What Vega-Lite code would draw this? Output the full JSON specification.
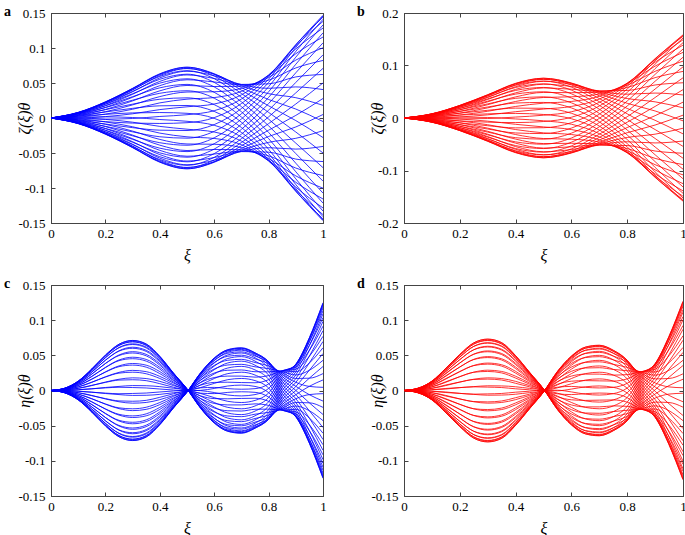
{
"$schema":"https://vega.github.io/schema/vega-lite/v6.json",
"padding":{"left":3,"top":4,"right":2,"bottom":0},
"background":"white",
"config":{"font":"Liberation Serif","view":{"stroke":"#444","strokeWidth":1},
"axis":{"labelFont":"Liberation Serif","labelFontSize":13,"labelColor":"#000","labelFlush":false,"labelOverlap":false,"titleFont":"Liberation Serif","titleFontSize":16,"titleFontStyle":"italic","titleFontWeight":"normal","titleColor":"#000","domainColor":"#444","tickColor":"#444","tickSize":-4,"grid":false},
"axisX":{"labelPadding":8},"axisY":{"labelPadding":10}},
"datasets":{
"a":[
{"c":0,"x":0,"y":0},{"c":0,"x":0.1,"y":0.008},{"c":0,"x":0.2,"y":0.023},{"c":0,"x":0.3,"y":0.042},{"c":0,"x":0.4,"y":0.062},{"c":0,"x":0.5,"y":0.071},{"c":0,"x":0.6,"y":0.06},{"c":0,"x":0.7,"y":0.035},{"c":0,"x":0.8,"y":0.008},{"c":0,"x":0.9,"y":-0.02},{"c":0,"x":1,"y":-0.05},
{"c":1,"x":0,"y":0},{"c":1,"x":0.1,"y":0.0076},{"c":1,"x":0.2,"y":0.0225},{"c":1,"x":0.3,"y":0.0418},{"c":1,"x":0.4,"y":0.0627},{"c":1,"x":0.5,"y":0.0724},{"c":1,"x":0.6,"y":0.0633},{"c":1,"x":0.7,"y":0.0435},{"c":1,"x":0.8,"y":0.0264},{"c":1,"x":0.9,"y":0.0128},{"c":1,"x":1,"y":-0.005},
{"c":2,"x":0,"y":0},{"c":2,"x":0.1,"y":0.0065},{"c":2,"x":0.2,"y":0.0198},{"c":2,"x":0.3,"y":0.0375},{"c":2,"x":0.4,"y":0.0573},{"c":2,"x":0.5,"y":0.0668},{"c":2,"x":0.6,"y":0.0603},{"c":2,"x":0.7,"y":0.0477},{"c":2,"x":0.8,"y":0.0424},{"c":2,"x":0.9,"y":0.0444},{"c":2,"x":1,"y":0.0406},
{"c":3,"x":0,"y":0},{"c":3,"x":0.1,"y":0.0047},{"c":3,"x":0.2,"y":0.0151},{"c":3,"x":0.3,"y":0.0296},{"c":3,"x":0.4,"y":0.0462},{"c":3,"x":0.5,"y":0.0546},{"c":3,"x":0.6,"y":0.0515},{"c":3,"x":0.7,"y":0.0473},{"c":3,"x":0.8,"y":0.054},{"c":3,"x":0.9,"y":0.0715},{"c":3,"x":1,"y":0.0822},
{"c":4,"x":0,"y":0},{"c":4,"x":0.1,"y":0.0025},{"c":4,"x":0.2,"y":0.009},{"c":4,"x":0.3,"y":0.0187},{"c":4,"x":0.4,"y":0.0306},{"c":4,"x":0.5,"y":0.0371},{"c":4,"x":0.6,"y":0.0375},{"c":4,"x":0.7,"y":0.0422},{"c":4,"x":0.8,"y":0.0605},{"c":4,"x":0.9,"y":0.0918},{"c":4,"x":1,"y":0.1157},
{"c":5,"x":0,"y":0},{"c":5,"x":0.1,"y":0},{"c":5,"x":0.2,"y":0.002},{"c":5,"x":0.3,"y":0.006},{"c":5,"x":0.4,"y":0.012},{"c":5,"x":0.5,"y":0.016},{"c":5,"x":0.6,"y":0.02},{"c":5,"x":0.7,"y":0.033},{"c":5,"x":0.8,"y":0.061},{"c":5,"x":0.9,"y":0.103},{"c":5,"x":1,"y":0.138},
{"c":6,"x":0,"y":0},{"c":6,"x":0.1,"y":-0.0025},{"c":6,"x":0.2,"y":-0.0052},{"c":6,"x":0.3,"y":-0.0073},{"c":6,"x":0.4,"y":-0.0078},{"c":6,"x":0.5,"y":-0.0067},{"c":6,"x":0.6,"y":0.0005},{"c":6,"x":0.7,"y":0.0206},{"c":6,"x":0.8,"y":0.0555},{"c":6,"x":0.9,"y":0.1042},{"c":6,"x":1,"y":0.1467},
{"c":7,"x":0,"y":0},{"c":7,"x":0.1,"y":-0.0047},{"c":7,"x":0.2,"y":-0.0119},{"c":7,"x":0.3,"y":-0.0198},{"c":7,"x":0.4,"y":-0.0268},{"c":7,"x":0.5,"y":-0.0288},{"c":7,"x":0.6,"y":-0.0191},{"c":7,"x":0.7,"y":0.0061},{"c":7,"x":0.8,"y":0.0446},{"c":7,"x":0.9,"y":0.0951},{"c":7,"x":1,"y":0.141},
{"c":8,"x":0,"y":0},{"c":8,"x":0.1,"y":-0.0065},{"c":8,"x":0.2,"y":-0.0174},{"c":8,"x":0.3,"y":-0.0305},{"c":8,"x":0.4,"y":-0.0431},{"c":8,"x":0.5,"y":-0.048},{"c":8,"x":0.6,"y":-0.0367},{"c":8,"x":0.7,"y":-0.0089},{"c":8,"x":0.8,"y":0.0294},{"c":8,"x":0.9,"y":0.0768},{"c":8,"x":1,"y":0.1216},
{"c":9,"x":0,"y":0},{"c":9,"x":0.1,"y":-0.0076},{"c":9,"x":0.2,"y":-0.0213},{"c":9,"x":0.3,"y":-0.038},{"c":9,"x":0.4,"y":-0.0553},{"c":9,"x":0.5,"y":-0.0626},{"c":9,"x":0.6,"y":-0.0509},{"c":9,"x":0.7,"y":-0.0231},{"c":9,"x":0.8,"y":0.0112},{"c":9,"x":0.9,"y":0.0508},{"c":9,"x":1,"y":0.0902},
{"c":10,"x":0,"y":0},{"c":10,"x":0.1,"y":-0.008},{"c":10,"x":0.2,"y":-0.023},{"c":10,"x":0.3,"y":-0.042},{"c":10,"x":0.4,"y":-0.062},{"c":10,"x":0.5,"y":-0.071},{"c":10,"x":0.6,"y":-0.06},{"c":10,"x":0.7,"y":-0.035},{"c":10,"x":0.8,"y":-0.008},{"c":10,"x":0.9,"y":0.02},{"c":10,"x":1,"y":0.05},
{"c":11,"x":0,"y":0},{"c":11,"x":0.1,"y":-0.0076},{"c":11,"x":0.2,"y":-0.0225},{"c":11,"x":0.3,"y":-0.0418},{"c":11,"x":0.4,"y":-0.0627},{"c":11,"x":0.5,"y":-0.0724},{"c":11,"x":0.6,"y":-0.0633},{"c":11,"x":0.7,"y":-0.0435},{"c":11,"x":0.8,"y":-0.0264},{"c":11,"x":0.9,"y":-0.0128},{"c":11,"x":1,"y":0.005},
{"c":12,"x":0,"y":0},{"c":12,"x":0.1,"y":-0.0065},{"c":12,"x":0.2,"y":-0.0198},{"c":12,"x":0.3,"y":-0.0375},{"c":12,"x":0.4,"y":-0.0573},{"c":12,"x":0.5,"y":-0.0668},{"c":12,"x":0.6,"y":-0.0603},{"c":12,"x":0.7,"y":-0.0477},{"c":12,"x":0.8,"y":-0.0424},{"c":12,"x":0.9,"y":-0.0444},{"c":12,"x":1,"y":-0.0406},
{"c":13,"x":0,"y":0},{"c":13,"x":0.1,"y":-0.0047},{"c":13,"x":0.2,"y":-0.0151},{"c":13,"x":0.3,"y":-0.0296},{"c":13,"x":0.4,"y":-0.0462},{"c":13,"x":0.5,"y":-0.0546},{"c":13,"x":0.6,"y":-0.0515},{"c":13,"x":0.7,"y":-0.0473},{"c":13,"x":0.8,"y":-0.054},{"c":13,"x":0.9,"y":-0.0715},{"c":13,"x":1,"y":-0.0822},
{"c":14,"x":0,"y":0},{"c":14,"x":0.1,"y":-0.0025},{"c":14,"x":0.2,"y":-0.009},{"c":14,"x":0.3,"y":-0.0187},{"c":14,"x":0.4,"y":-0.0306},{"c":14,"x":0.5,"y":-0.0371},{"c":14,"x":0.6,"y":-0.0375},{"c":14,"x":0.7,"y":-0.0422},{"c":14,"x":0.8,"y":-0.0605},{"c":14,"x":0.9,"y":-0.0918},{"c":14,"x":1,"y":-0.1157},
{"c":15,"x":0,"y":0},{"c":15,"x":0.1,"y":0},{"c":15,"x":0.2,"y":-0.002},{"c":15,"x":0.3,"y":-0.006},{"c":15,"x":0.4,"y":-0.012},{"c":15,"x":0.5,"y":-0.016},{"c":15,"x":0.6,"y":-0.02},{"c":15,"x":0.7,"y":-0.033},{"c":15,"x":0.8,"y":-0.061},{"c":15,"x":0.9,"y":-0.103},{"c":15,"x":1,"y":-0.138},
{"c":16,"x":0,"y":0},{"c":16,"x":0.1,"y":0.0025},{"c":16,"x":0.2,"y":0.0052},{"c":16,"x":0.3,"y":0.0073},{"c":16,"x":0.4,"y":0.0078},{"c":16,"x":0.5,"y":0.0067},{"c":16,"x":0.6,"y":-0.0005},{"c":16,"x":0.7,"y":-0.0206},{"c":16,"x":0.8,"y":-0.0555},{"c":16,"x":0.9,"y":-0.1042},{"c":16,"x":1,"y":-0.1467},
{"c":17,"x":0,"y":0},{"c":17,"x":0.1,"y":0.0047},{"c":17,"x":0.2,"y":0.0119},{"c":17,"x":0.3,"y":0.0198},{"c":17,"x":0.4,"y":0.0268},{"c":17,"x":0.5,"y":0.0288},{"c":17,"x":0.6,"y":0.0191},{"c":17,"x":0.7,"y":-0.0061},{"c":17,"x":0.8,"y":-0.0446},{"c":17,"x":0.9,"y":-0.0951},{"c":17,"x":1,"y":-0.141},
{"c":18,"x":0,"y":0},{"c":18,"x":0.1,"y":0.0065},{"c":18,"x":0.2,"y":0.0174},{"c":18,"x":0.3,"y":0.0305},{"c":18,"x":0.4,"y":0.0431},{"c":18,"x":0.5,"y":0.048},{"c":18,"x":0.6,"y":0.0367},{"c":18,"x":0.7,"y":0.0089},{"c":18,"x":0.8,"y":-0.0294},{"c":18,"x":0.9,"y":-0.0768},{"c":18,"x":1,"y":-0.1216},
{"c":19,"x":0,"y":0},{"c":19,"x":0.1,"y":0.0076},{"c":19,"x":0.2,"y":0.0213},{"c":19,"x":0.3,"y":0.038},{"c":19,"x":0.4,"y":0.0553},{"c":19,"x":0.5,"y":0.0626},{"c":19,"x":0.6,"y":0.0509},{"c":19,"x":0.7,"y":0.0231},{"c":19,"x":0.8,"y":-0.0112},{"c":19,"x":0.9,"y":-0.0508},{"c":19,"x":1,"y":-0.0902},
{"c":20,"x":0,"y":0},{"c":20,"x":0.1,"y":0.0079},{"c":20,"x":0.2,"y":0.023},{"c":20,"x":0.3,"y":0.0424},{"c":20,"x":0.4,"y":0.0632},{"c":20,"x":0.5,"y":0.0726},{"c":20,"x":0.6,"y":0.0624},{"c":20,"x":0.7,"y":0.0397},{"c":20,"x":0.8,"y":0.0174},{"c":20,"x":0.9,"y":-0.0037},{"c":20,"x":1,"y":-0.0279},
{"c":21,"x":0,"y":0},{"c":21,"x":0.1,"y":0.0071},{"c":21,"x":0.2,"y":0.0214},{"c":21,"x":0.3,"y":0.0401},{"c":21,"x":0.4,"y":0.0606},{"c":21,"x":0.5,"y":0.0706},{"c":21,"x":0.6,"y":0.0626},{"c":21,"x":0.7,"y":0.0462},{"c":21,"x":0.8,"y":0.0348},{"c":21,"x":0.9,"y":0.029},{"c":21,"x":1,"y":0.0181},
{"c":22,"x":0,"y":0},{"c":22,"x":0.1,"y":0.0057},{"c":22,"x":0.2,"y":0.0177},{"c":22,"x":0.3,"y":0.0339},{"c":22,"x":0.4,"y":0.0523},{"c":22,"x":0.5,"y":0.0615},{"c":22,"x":0.6,"y":0.0565},{"c":22,"x":0.7,"y":0.048},{"c":22,"x":0.8,"y":0.0488},{"c":22,"x":0.9,"y":0.0587},{"c":22,"x":1,"y":0.0622},
{"c":23,"x":0,"y":0},{"c":23,"x":0.1,"y":0.0036},{"c":23,"x":0.2,"y":0.0122},{"c":23,"x":0.3,"y":0.0244},{"c":23,"x":0.4,"y":0.0388},{"c":23,"x":0.5,"y":0.0465},{"c":23,"x":0.6,"y":0.045},{"c":23,"x":0.7,"y":0.0453},{"c":23,"x":0.8,"y":0.058},{"c":23,"x":0.9,"y":0.0827},{"c":23,"x":1,"y":0.1003},
{"c":24,"x":0,"y":0},{"c":24,"x":0.1,"y":0.0012},{"c":24,"x":0.2,"y":0.0056},{"c":24,"x":0.3,"y":0.0125},{"c":24,"x":0.4,"y":0.0216},{"c":24,"x":0.5,"y":0.0269},{"c":24,"x":0.6,"y":0.0292},{"c":24,"x":0.7,"y":0.0381},{"c":24,"x":0.8,"y":0.0615},{"c":24,"x":0.9,"y":0.0987},{"c":24,"x":1,"y":0.1285},
{"c":25,"x":0,"y":0},{"c":25,"x":0.1,"y":-0.0012},{"c":25,"x":0.2,"y":-0.0016},{"c":25,"x":0.3,"y":-0.0007},{"c":25,"x":0.4,"y":0.0022},{"c":25,"x":0.5,"y":0.0047},{"c":25,"x":0.6,"y":0.0104},{"c":25,"x":0.7,"y":0.0271},{"c":25,"x":0.8,"y":0.0591},{"c":25,"x":0.9,"y":0.1049},{"c":25,"x":1,"y":0.1441},
{"c":26,"x":0,"y":0},{"c":26,"x":0.1,"y":-0.0036},{"c":26,"x":0.2,"y":-0.0086},{"c":26,"x":0.3,"y":-0.0138},{"c":26,"x":0.4,"y":-0.0174},{"c":26,"x":0.5,"y":-0.0179},{"c":26,"x":0.6,"y":-0.0094},{"c":26,"x":0.7,"y":0.0135},{"c":26,"x":0.8,"y":0.0508},{"c":26,"x":0.9,"y":0.1009},{"c":26,"x":1,"y":0.1457},
{"c":27,"x":0,"y":0},{"c":27,"x":0.1,"y":-0.0057},{"c":27,"x":0.2,"y":-0.0149},{"c":27,"x":0.3,"y":-0.0255},{"c":27,"x":0.4,"y":-0.0353},{"c":27,"x":0.5,"y":-0.0389},{"c":27,"x":0.6,"y":-0.0283},{"c":27,"x":0.7,"y":-0.0014},{"c":27,"x":0.8,"y":0.0374},{"c":27,"x":0.9,"y":0.0869},{"c":27,"x":1,"y":0.133},
{"c":28,"x":0,"y":0},{"c":28,"x":0.1,"y":-0.0071},{"c":28,"x":0.2,"y":-0.0196},{"c":28,"x":0.3,"y":-0.0347},{"c":28,"x":0.4,"y":-0.0498},{"c":28,"x":0.5,"y":-0.056},{"c":28,"x":0.6,"y":-0.0444},{"c":28,"x":0.7,"y":-0.0162},{"c":28,"x":0.8,"y":0.0206},{"c":28,"x":0.9,"y":0.0646},{"c":28,"x":1,"y":0.1073},
{"c":29,"x":0,"y":0},{"c":29,"x":0.1,"y":-0.0079},{"c":29,"x":0.2,"y":-0.0224},{"c":29,"x":0.3,"y":-0.0406},{"c":29,"x":0.4,"y":-0.0594},{"c":29,"x":0.5,"y":-0.0676},{"c":29,"x":0.6,"y":-0.0562},{"c":29,"x":0.7,"y":-0.0295},{"c":29,"x":0.8,"y":0.0016},{"c":29,"x":0.9,"y":0.0359},{"c":29,"x":1,"y":0.0709},
{"c":30,"x":0,"y":0},{"c":30,"x":0.1,"y":-0.0079},{"c":30,"x":0.2,"y":-0.023},{"c":30,"x":0.3,"y":-0.0424},{"c":30,"x":0.4,"y":-0.0632},{"c":30,"x":0.5,"y":-0.0726},{"c":30,"x":0.6,"y":-0.0624},{"c":30,"x":0.7,"y":-0.0397},{"c":30,"x":0.8,"y":-0.0174},{"c":30,"x":0.9,"y":0.0037},{"c":30,"x":1,"y":0.0279},
{"c":31,"x":0,"y":0},{"c":31,"x":0.1,"y":-0.0071},{"c":31,"x":0.2,"y":-0.0214},{"c":31,"x":0.3,"y":-0.0401},{"c":31,"x":0.4,"y":-0.0606},{"c":31,"x":0.5,"y":-0.0706},{"c":31,"x":0.6,"y":-0.0626},{"c":31,"x":0.7,"y":-0.0462},{"c":31,"x":0.8,"y":-0.0348},{"c":31,"x":0.9,"y":-0.029},{"c":31,"x":1,"y":-0.0181},
{"c":32,"x":0,"y":0},{"c":32,"x":0.1,"y":-0.0057},{"c":32,"x":0.2,"y":-0.0177},{"c":32,"x":0.3,"y":-0.0339},{"c":32,"x":0.4,"y":-0.0523},{"c":32,"x":0.5,"y":-0.0615},{"c":32,"x":0.6,"y":-0.0565},{"c":32,"x":0.7,"y":-0.048},{"c":32,"x":0.8,"y":-0.0488},{"c":32,"x":0.9,"y":-0.0587},{"c":32,"x":1,"y":-0.0622},
{"c":33,"x":0,"y":0},{"c":33,"x":0.1,"y":-0.0036},{"c":33,"x":0.2,"y":-0.0122},{"c":33,"x":0.3,"y":-0.0244},{"c":33,"x":0.4,"y":-0.0388},{"c":33,"x":0.5,"y":-0.0465},{"c":33,"x":0.6,"y":-0.045},{"c":33,"x":0.7,"y":-0.0453},{"c":33,"x":0.8,"y":-0.058},{"c":33,"x":0.9,"y":-0.0827},{"c":33,"x":1,"y":-0.1003},
{"c":34,"x":0,"y":0},{"c":34,"x":0.1,"y":-0.0012},{"c":34,"x":0.2,"y":-0.0056},{"c":34,"x":0.3,"y":-0.0125},{"c":34,"x":0.4,"y":-0.0216},{"c":34,"x":0.5,"y":-0.0269},{"c":34,"x":0.6,"y":-0.0292},{"c":34,"x":0.7,"y":-0.0381},{"c":34,"x":0.8,"y":-0.0615},{"c":34,"x":0.9,"y":-0.0987},{"c":34,"x":1,"y":-0.1285},
{"c":35,"x":0,"y":0},{"c":35,"x":0.1,"y":0.0012},{"c":35,"x":0.2,"y":0.0016},{"c":35,"x":0.3,"y":0.0007},{"c":35,"x":0.4,"y":-0.0022},{"c":35,"x":0.5,"y":-0.0047},{"c":35,"x":0.6,"y":-0.0104},{"c":35,"x":0.7,"y":-0.0271},{"c":35,"x":0.8,"y":-0.0591},{"c":35,"x":0.9,"y":-0.1049},{"c":35,"x":1,"y":-0.1441},
{"c":36,"x":0,"y":0},{"c":36,"x":0.1,"y":0.0036},{"c":36,"x":0.2,"y":0.0086},{"c":36,"x":0.3,"y":0.0138},{"c":36,"x":0.4,"y":0.0174},{"c":36,"x":0.5,"y":0.0179},{"c":36,"x":0.6,"y":0.0094},{"c":36,"x":0.7,"y":-0.0135},{"c":36,"x":0.8,"y":-0.0508},{"c":36,"x":0.9,"y":-0.1009},{"c":36,"x":1,"y":-0.1457},
{"c":37,"x":0,"y":0},{"c":37,"x":0.1,"y":0.0057},{"c":37,"x":0.2,"y":0.0149},{"c":37,"x":0.3,"y":0.0255},{"c":37,"x":0.4,"y":0.0353},{"c":37,"x":0.5,"y":0.0389},{"c":37,"x":0.6,"y":0.0283},{"c":37,"x":0.7,"y":0.0014},{"c":37,"x":0.8,"y":-0.0374},{"c":37,"x":0.9,"y":-0.0869},{"c":37,"x":1,"y":-0.133},
{"c":38,"x":0,"y":0},{"c":38,"x":0.1,"y":0.0071},{"c":38,"x":0.2,"y":0.0196},{"c":38,"x":0.3,"y":0.0347},{"c":38,"x":0.4,"y":0.0498},{"c":38,"x":0.5,"y":0.056},{"c":38,"x":0.6,"y":0.0444},{"c":38,"x":0.7,"y":0.0162},{"c":38,"x":0.8,"y":-0.0206},{"c":38,"x":0.9,"y":-0.0646},{"c":38,"x":1,"y":-0.1073},
{"c":39,"x":0,"y":0},{"c":39,"x":0.1,"y":0.0079},{"c":39,"x":0.2,"y":0.0224},{"c":39,"x":0.3,"y":0.0406},{"c":39,"x":0.4,"y":0.0594},{"c":39,"x":0.5,"y":0.0676},{"c":39,"x":0.6,"y":0.0562},{"c":39,"x":0.7,"y":0.0295},{"c":39,"x":0.8,"y":-0.0016},{"c":39,"x":0.9,"y":-0.0359},{"c":39,"x":1,"y":-0.0709}
],
"b":[
{"c":0,"x":0,"y":0},{"c":0,"x":0.1,"y":0.008},{"c":0,"x":0.2,"y":0.024},{"c":0,"x":0.3,"y":0.044},{"c":0,"x":0.4,"y":0.065},{"c":0,"x":0.5,"y":0.074},{"c":0,"x":0.6,"y":0.063},{"c":0,"x":0.7,"y":0.037},{"c":0,"x":0.8,"y":0.008},{"c":0,"x":0.9,"y":-0.022},{"c":0,"x":1,"y":-0.054},
{"c":1,"x":0,"y":0},{"c":1,"x":0.1,"y":0.0076},{"c":1,"x":0.2,"y":0.0234},{"c":1,"x":0.3,"y":0.0437},{"c":1,"x":0.4,"y":0.0655},{"c":1,"x":0.5,"y":0.0757},{"c":1,"x":0.6,"y":0.0667},{"c":1,"x":0.7,"y":0.0463},{"c":1,"x":0.8,"y":0.028},{"c":1,"x":0.9,"y":0.0134},{"c":1,"x":1,"y":-0.0054},
{"c":2,"x":0,"y":0},{"c":2,"x":0.1,"y":0.0065},{"c":2,"x":0.2,"y":0.0206},{"c":2,"x":0.3,"y":0.0391},{"c":2,"x":0.4,"y":0.0597},{"c":2,"x":0.5,"y":0.0699},{"c":2,"x":0.6,"y":0.0639},{"c":2,"x":0.7,"y":0.0511},{"c":2,"x":0.8,"y":0.0453},{"c":2,"x":0.9,"y":0.0475},{"c":2,"x":1,"y":0.0439},
{"c":3,"x":0,"y":0},{"c":3,"x":0.1,"y":0.0047},{"c":3,"x":0.2,"y":0.0157},{"c":3,"x":0.3,"y":0.0308},{"c":3,"x":0.4,"y":0.0479},{"c":3,"x":0.5,"y":0.0573},{"c":3,"x":0.6,"y":0.0548},{"c":3,"x":0.7,"y":0.0509},{"c":3,"x":0.8,"y":0.0581},{"c":3,"x":0.9,"y":0.0769},{"c":3,"x":1,"y":0.0887},
{"c":4,"x":0,"y":0},{"c":4,"x":0.1,"y":0.0025},{"c":4,"x":0.2,"y":0.0093},{"c":4,"x":0.3,"y":0.0193},{"c":4,"x":0.4,"y":0.0315},{"c":4,"x":0.5,"y":0.0391},{"c":4,"x":0.6,"y":0.0404},{"c":4,"x":0.7,"y":0.0456},{"c":4,"x":0.8,"y":0.0653},{"c":4,"x":0.9,"y":0.0988},{"c":4,"x":1,"y":0.125},
{"c":5,"x":0,"y":0},{"c":5,"x":0.1,"y":0},{"c":5,"x":0.2,"y":0.002},{"c":5,"x":0.3,"y":0.006},{"c":5,"x":0.4,"y":0.012},{"c":5,"x":0.5,"y":0.017},{"c":5,"x":0.6,"y":0.022},{"c":5,"x":0.7,"y":0.036},{"c":5,"x":0.8,"y":0.066},{"c":5,"x":0.9,"y":0.111},{"c":5,"x":1,"y":0.149},
{"c":6,"x":0,"y":0},{"c":6,"x":0.1,"y":-0.0025},{"c":6,"x":0.2,"y":-0.0055},{"c":6,"x":0.3,"y":-0.0079},{"c":6,"x":0.4,"y":-0.0087},{"c":6,"x":0.5,"y":-0.0067},{"c":6,"x":0.6,"y":0.0014},{"c":6,"x":0.7,"y":0.0228},{"c":6,"x":0.8,"y":0.0603},{"c":6,"x":0.9,"y":0.1124},{"c":6,"x":1,"y":0.1584},
{"c":7,"x":0,"y":0},{"c":7,"x":0.1,"y":-0.0047},{"c":7,"x":0.2,"y":-0.0125},{"c":7,"x":0.3,"y":-0.021},{"c":7,"x":0.4,"y":-0.0285},{"c":7,"x":0.5,"y":-0.0297},{"c":7,"x":0.6,"y":-0.0192},{"c":7,"x":0.7,"y":0.0073},{"c":7,"x":0.8,"y":0.0487},{"c":7,"x":0.9,"y":0.1027},{"c":7,"x":1,"y":0.1523},
{"c":8,"x":0,"y":0},{"c":8,"x":0.1,"y":-0.0065},{"c":8,"x":0.2,"y":-0.0182},{"c":8,"x":0.3,"y":-0.0321},{"c":8,"x":0.4,"y":-0.0455},{"c":8,"x":0.5,"y":-0.0499},{"c":8,"x":0.6,"y":-0.0381},{"c":8,"x":0.7,"y":-0.0087},{"c":8,"x":0.8,"y":0.0323},{"c":8,"x":0.9,"y":0.0831},{"c":8,"x":1,"y":0.1313},
{"c":9,"x":0,"y":0},{"c":9,"x":0.1,"y":-0.0076},{"c":9,"x":0.2,"y":-0.0222},{"c":9,"x":0.3,"y":-0.0399},{"c":9,"x":0.4,"y":-0.0581},{"c":9,"x":0.5,"y":-0.0651},{"c":9,"x":0.6,"y":-0.0531},{"c":9,"x":0.7,"y":-0.0241},{"c":9,"x":0.8,"y":0.0128},{"c":9,"x":0.9,"y":0.0552},{"c":9,"x":1,"y":0.0974},
{"c":10,"x":0,"y":0},{"c":10,"x":0.1,"y":-0.008},{"c":10,"x":0.2,"y":-0.024},{"c":10,"x":0.3,"y":-0.044},{"c":10,"x":0.4,"y":-0.065},{"c":10,"x":0.5,"y":-0.074},{"c":10,"x":0.6,"y":-0.063},{"c":10,"x":0.7,"y":-0.037},{"c":10,"x":0.8,"y":-0.008},{"c":10,"x":0.9,"y":0.022},{"c":10,"x":1,"y":0.054},
{"c":11,"x":0,"y":0},{"c":11,"x":0.1,"y":-0.0076},{"c":11,"x":0.2,"y":-0.0234},{"c":11,"x":0.3,"y":-0.0437},{"c":11,"x":0.4,"y":-0.0655},{"c":11,"x":0.5,"y":-0.0757},{"c":11,"x":0.6,"y":-0.0667},{"c":11,"x":0.7,"y":-0.0463},{"c":11,"x":0.8,"y":-0.028},{"c":11,"x":0.9,"y":-0.0134},{"c":11,"x":1,"y":0.0054},
{"c":12,"x":0,"y":0},{"c":12,"x":0.1,"y":-0.0065},{"c":12,"x":0.2,"y":-0.0206},{"c":12,"x":0.3,"y":-0.0391},{"c":12,"x":0.4,"y":-0.0597},{"c":12,"x":0.5,"y":-0.0699},{"c":12,"x":0.6,"y":-0.0639},{"c":12,"x":0.7,"y":-0.0511},{"c":12,"x":0.8,"y":-0.0453},{"c":12,"x":0.9,"y":-0.0475},{"c":12,"x":1,"y":-0.0439},
{"c":13,"x":0,"y":0},{"c":13,"x":0.1,"y":-0.0047},{"c":13,"x":0.2,"y":-0.0157},{"c":13,"x":0.3,"y":-0.0308},{"c":13,"x":0.4,"y":-0.0479},{"c":13,"x":0.5,"y":-0.0573},{"c":13,"x":0.6,"y":-0.0548},{"c":13,"x":0.7,"y":-0.0509},{"c":13,"x":0.8,"y":-0.0581},{"c":13,"x":0.9,"y":-0.0769},{"c":13,"x":1,"y":-0.0887},
{"c":14,"x":0,"y":0},{"c":14,"x":0.1,"y":-0.0025},{"c":14,"x":0.2,"y":-0.0093},{"c":14,"x":0.3,"y":-0.0193},{"c":14,"x":0.4,"y":-0.0315},{"c":14,"x":0.5,"y":-0.0391},{"c":14,"x":0.6,"y":-0.0404},{"c":14,"x":0.7,"y":-0.0456},{"c":14,"x":0.8,"y":-0.0653},{"c":14,"x":0.9,"y":-0.0988},{"c":14,"x":1,"y":-0.125},
{"c":15,"x":0,"y":0},{"c":15,"x":0.1,"y":0},{"c":15,"x":0.2,"y":-0.002},{"c":15,"x":0.3,"y":-0.006},{"c":15,"x":0.4,"y":-0.012},{"c":15,"x":0.5,"y":-0.017},{"c":15,"x":0.6,"y":-0.022},{"c":15,"x":0.7,"y":-0.036},{"c":15,"x":0.8,"y":-0.066},{"c":15,"x":0.9,"y":-0.111},{"c":15,"x":1,"y":-0.149},
{"c":16,"x":0,"y":0},{"c":16,"x":0.1,"y":0.0025},{"c":16,"x":0.2,"y":0.0055},{"c":16,"x":0.3,"y":0.0079},{"c":16,"x":0.4,"y":0.0087},{"c":16,"x":0.5,"y":0.0067},{"c":16,"x":0.6,"y":-0.0014},{"c":16,"x":0.7,"y":-0.0228},{"c":16,"x":0.8,"y":-0.0603},{"c":16,"x":0.9,"y":-0.1124},{"c":16,"x":1,"y":-0.1584},
{"c":17,"x":0,"y":0},{"c":17,"x":0.1,"y":0.0047},{"c":17,"x":0.2,"y":0.0125},{"c":17,"x":0.3,"y":0.021},{"c":17,"x":0.4,"y":0.0285},{"c":17,"x":0.5,"y":0.0297},{"c":17,"x":0.6,"y":0.0192},{"c":17,"x":0.7,"y":-0.0073},{"c":17,"x":0.8,"y":-0.0487},{"c":17,"x":0.9,"y":-0.1027},{"c":17,"x":1,"y":-0.1523},
{"c":18,"x":0,"y":0},{"c":18,"x":0.1,"y":0.0065},{"c":18,"x":0.2,"y":0.0182},{"c":18,"x":0.3,"y":0.0321},{"c":18,"x":0.4,"y":0.0455},{"c":18,"x":0.5,"y":0.0499},{"c":18,"x":0.6,"y":0.0381},{"c":18,"x":0.7,"y":0.0087},{"c":18,"x":0.8,"y":-0.0323},{"c":18,"x":0.9,"y":-0.0831},{"c":18,"x":1,"y":-0.1313},
{"c":19,"x":0,"y":0},{"c":19,"x":0.1,"y":0.0076},{"c":19,"x":0.2,"y":0.0222},{"c":19,"x":0.3,"y":0.0399},{"c":19,"x":0.4,"y":0.0581},{"c":19,"x":0.5,"y":0.0651},{"c":19,"x":0.6,"y":0.0531},{"c":19,"x":0.7,"y":0.0241},{"c":19,"x":0.8,"y":-0.0128},{"c":19,"x":0.9,"y":-0.0552},{"c":19,"x":1,"y":-0.0974},
{"c":20,"x":0,"y":0},{"c":20,"x":0.1,"y":0.0079},{"c":20,"x":0.2,"y":0.024},{"c":20,"x":0.3,"y":0.0444},{"c":20,"x":0.4,"y":0.0661},{"c":20,"x":0.5,"y":0.0758},{"c":20,"x":0.6,"y":0.0656},{"c":20,"x":0.7,"y":0.0422},{"c":20,"x":0.8,"y":0.0182},{"c":20,"x":0.9,"y":-0.0044},{"c":20,"x":1,"y":-0.0302},
{"c":21,"x":0,"y":0},{"c":21,"x":0.1,"y":0.0071},{"c":21,"x":0.2,"y":0.0223},{"c":21,"x":0.3,"y":0.0419},{"c":21,"x":0.4,"y":0.0633},{"c":21,"x":0.5,"y":0.0736},{"c":21,"x":0.6,"y":0.0661},{"c":21,"x":0.7,"y":0.0493},{"c":21,"x":0.8,"y":0.0371},{"c":21,"x":0.9,"y":0.0308},{"c":21,"x":1,"y":0.0195},
{"c":22,"x":0,"y":0},{"c":22,"x":0.1,"y":0.0057},{"c":22,"x":0.2,"y":0.0184},{"c":22,"x":0.3,"y":0.0353},{"c":22,"x":0.4,"y":0.0545},{"c":22,"x":0.5,"y":0.0643},{"c":22,"x":0.6,"y":0.0601},{"c":22,"x":0.7,"y":0.0517},{"c":22,"x":0.8,"y":0.0524},{"c":22,"x":0.9,"y":0.0629},{"c":22,"x":1,"y":0.0671},
{"c":23,"x":0,"y":0},{"c":23,"x":0.1,"y":0.0036},{"c":23,"x":0.2,"y":0.0127},{"c":23,"x":0.3,"y":0.0253},{"c":23,"x":0.4,"y":0.0402},{"c":23,"x":0.5,"y":0.0487},{"c":23,"x":0.6,"y":0.0482},{"c":23,"x":0.7,"y":0.0489},{"c":23,"x":0.8,"y":0.0624},{"c":23,"x":0.9,"y":0.0889},{"c":23,"x":1,"y":0.1083},
{"c":24,"x":0,"y":0},{"c":24,"x":0.1,"y":0.0012},{"c":24,"x":0.2,"y":0.0057},{"c":24,"x":0.3,"y":0.0128},{"c":24,"x":0.4,"y":0.022},{"c":24,"x":0.5,"y":0.0283},{"c":24,"x":0.6,"y":0.0315},{"c":24,"x":0.7,"y":0.0414},{"c":24,"x":0.8,"y":0.0664},{"c":24,"x":0.9,"y":0.1063},{"c":24,"x":1,"y":0.1388},
{"c":25,"x":0,"y":0},{"c":25,"x":0.1,"y":-0.0012},{"c":25,"x":0.2,"y":-0.0017},{"c":25,"x":0.3,"y":-0.001},{"c":25,"x":0.4,"y":0.0018},{"c":25,"x":0.5,"y":0.0053},{"c":25,"x":0.6,"y":0.0119},{"c":25,"x":0.7,"y":0.0298},{"c":25,"x":0.8,"y":0.064},{"c":25,"x":0.9,"y":0.1131},{"c":25,"x":1,"y":0.1556},
{"c":26,"x":0,"y":0},{"c":26,"x":0.1,"y":-0.0036},{"c":26,"x":0.2,"y":-0.0091},{"c":26,"x":0.3,"y":-0.0147},{"c":26,"x":0.4,"y":-0.0188},{"c":26,"x":0.5,"y":-0.0185},{"c":26,"x":0.6,"y":-0.009},{"c":26,"x":0.7,"y":0.0153},{"c":26,"x":0.8,"y":0.0552},{"c":26,"x":0.9,"y":0.1089},{"c":26,"x":1,"y":0.1573},
{"c":27,"x":0,"y":0},{"c":27,"x":0.1,"y":-0.0057},{"c":27,"x":0.2,"y":-0.0156},{"c":27,"x":0.3,"y":-0.0269},{"c":27,"x":0.4,"y":-0.0375},{"c":27,"x":0.5,"y":-0.0403},{"c":27,"x":0.6,"y":-0.0289},{"c":27,"x":0.7,"y":-0.0007},{"c":27,"x":0.8,"y":0.041},{"c":27,"x":0.9,"y":0.0941},{"c":27,"x":1,"y":0.1435},
{"c":28,"x":0,"y":0},{"c":28,"x":0.1,"y":-0.0071},{"c":28,"x":0.2,"y":-0.0205},{"c":28,"x":0.3,"y":-0.0365},{"c":28,"x":0.4,"y":-0.0525},{"c":28,"x":0.5,"y":-0.0582},{"c":28,"x":0.6,"y":-0.0461},{"c":28,"x":0.7,"y":-0.0167},{"c":28,"x":0.8,"y":0.0229},{"c":28,"x":0.9,"y":0.07},{"c":28,"x":1,"y":0.1157},
{"c":29,"x":0,"y":0},{"c":29,"x":0.1,"y":-0.0079},{"c":29,"x":0.2,"y":-0.0234},{"c":29,"x":0.3,"y":-0.0426},{"c":29,"x":0.4,"y":-0.0623},{"c":29,"x":0.5,"y":-0.0704},{"c":29,"x":0.6,"y":-0.0588},{"c":29,"x":0.7,"y":-0.031},{"c":29,"x":0.8,"y":0.0024},{"c":29,"x":0.9,"y":0.039},{"c":29,"x":1,"y":0.0766},
{"c":30,"x":0,"y":0},{"c":30,"x":0.1,"y":-0.0079},{"c":30,"x":0.2,"y":-0.024},{"c":30,"x":0.3,"y":-0.0444},{"c":30,"x":0.4,"y":-0.0661},{"c":30,"x":0.5,"y":-0.0758},{"c":30,"x":0.6,"y":-0.0656},{"c":30,"x":0.7,"y":-0.0422},{"c":30,"x":0.8,"y":-0.0182},{"c":30,"x":0.9,"y":0.0044},{"c":30,"x":1,"y":0.0302},
{"c":31,"x":0,"y":0},{"c":31,"x":0.1,"y":-0.0071},{"c":31,"x":0.2,"y":-0.0223},{"c":31,"x":0.3,"y":-0.0419},{"c":31,"x":0.4,"y":-0.0633},{"c":31,"x":0.5,"y":-0.0736},{"c":31,"x":0.6,"y":-0.0661},{"c":31,"x":0.7,"y":-0.0493},{"c":31,"x":0.8,"y":-0.0371},{"c":31,"x":0.9,"y":-0.0308},{"c":31,"x":1,"y":-0.0195},
{"c":32,"x":0,"y":0},{"c":32,"x":0.1,"y":-0.0057},{"c":32,"x":0.2,"y":-0.0184},{"c":32,"x":0.3,"y":-0.0353},{"c":32,"x":0.4,"y":-0.0545},{"c":32,"x":0.5,"y":-0.0643},{"c":32,"x":0.6,"y":-0.0601},{"c":32,"x":0.7,"y":-0.0517},{"c":32,"x":0.8,"y":-0.0524},{"c":32,"x":0.9,"y":-0.0629},{"c":32,"x":1,"y":-0.0671},
{"c":33,"x":0,"y":0},{"c":33,"x":0.1,"y":-0.0036},{"c":33,"x":0.2,"y":-0.0127},{"c":33,"x":0.3,"y":-0.0253},{"c":33,"x":0.4,"y":-0.0402},{"c":33,"x":0.5,"y":-0.0487},{"c":33,"x":0.6,"y":-0.0482},{"c":33,"x":0.7,"y":-0.0489},{"c":33,"x":0.8,"y":-0.0624},{"c":33,"x":0.9,"y":-0.0889},{"c":33,"x":1,"y":-0.1083},
{"c":34,"x":0,"y":0},{"c":34,"x":0.1,"y":-0.0012},{"c":34,"x":0.2,"y":-0.0057},{"c":34,"x":0.3,"y":-0.0128},{"c":34,"x":0.4,"y":-0.022},{"c":34,"x":0.5,"y":-0.0283},{"c":34,"x":0.6,"y":-0.0315},{"c":34,"x":0.7,"y":-0.0414},{"c":34,"x":0.8,"y":-0.0664},{"c":34,"x":0.9,"y":-0.1063},{"c":34,"x":1,"y":-0.1388},
{"c":35,"x":0,"y":0},{"c":35,"x":0.1,"y":0.0012},{"c":35,"x":0.2,"y":0.0017},{"c":35,"x":0.3,"y":0.001},{"c":35,"x":0.4,"y":-0.0018},{"c":35,"x":0.5,"y":-0.0053},{"c":35,"x":0.6,"y":-0.0119},{"c":35,"x":0.7,"y":-0.0298},{"c":35,"x":0.8,"y":-0.064},{"c":35,"x":0.9,"y":-0.1131},{"c":35,"x":1,"y":-0.1556},
{"c":36,"x":0,"y":0},{"c":36,"x":0.1,"y":0.0036},{"c":36,"x":0.2,"y":0.0091},{"c":36,"x":0.3,"y":0.0147},{"c":36,"x":0.4,"y":0.0188},{"c":36,"x":0.5,"y":0.0185},{"c":36,"x":0.6,"y":0.009},{"c":36,"x":0.7,"y":-0.0153},{"c":36,"x":0.8,"y":-0.0552},{"c":36,"x":0.9,"y":-0.1089},{"c":36,"x":1,"y":-0.1573},
{"c":37,"x":0,"y":0},{"c":37,"x":0.1,"y":0.0057},{"c":37,"x":0.2,"y":0.0156},{"c":37,"x":0.3,"y":0.0269},{"c":37,"x":0.4,"y":0.0375},{"c":37,"x":0.5,"y":0.0403},{"c":37,"x":0.6,"y":0.0289},{"c":37,"x":0.7,"y":0.0007},{"c":37,"x":0.8,"y":-0.041},{"c":37,"x":0.9,"y":-0.0941},{"c":37,"x":1,"y":-0.1435},
{"c":38,"x":0,"y":0},{"c":38,"x":0.1,"y":0.0071},{"c":38,"x":0.2,"y":0.0205},{"c":38,"x":0.3,"y":0.0365},{"c":38,"x":0.4,"y":0.0525},{"c":38,"x":0.5,"y":0.0582},{"c":38,"x":0.6,"y":0.0461},{"c":38,"x":0.7,"y":0.0167},{"c":38,"x":0.8,"y":-0.0229},{"c":38,"x":0.9,"y":-0.07},{"c":38,"x":1,"y":-0.1157},
{"c":39,"x":0,"y":0},{"c":39,"x":0.1,"y":0.0079},{"c":39,"x":0.2,"y":0.0234},{"c":39,"x":0.3,"y":0.0426},{"c":39,"x":0.4,"y":0.0623},{"c":39,"x":0.5,"y":0.0704},{"c":39,"x":0.6,"y":0.0588},{"c":39,"x":0.7,"y":0.031},{"c":39,"x":0.8,"y":-0.0024},{"c":39,"x":0.9,"y":-0.039},{"c":39,"x":1,"y":-0.0766}
],
"c":[
{"c":0,"x":0,"y":0},{"c":0,"x":0.05,"y":0.003},{"c":0,"x":0.1,"y":0.013},{"c":0,"x":0.15,"y":0.03},{"c":0,"x":0.2,"y":0.049},{"c":0,"x":0.25,"y":0.064},{"c":0,"x":0.3,"y":0.069},{"c":0,"x":0.35,"y":0.064},{"c":0,"x":0.4,"y":0.047},{"c":0,"x":0.45,"y":0.024},{"c":0,"x":0.5,"y":0.002},{"c":0,"x":0.55,"y":-0.024},{"c":0,"x":0.6,"y":-0.043},{"c":0,"x":0.65,"y":-0.053},{"c":0,"x":0.7,"y":-0.055},{"c":0,"x":0.75,"y":-0.049},{"c":0,"x":0.8,"y":-0.04},{"c":0,"x":0.85,"y":-0.02},{"c":0,"x":0.9,"y":-0.006},{"c":0,"x":0.95,"y":0.006},{"c":0,"x":1,"y":0.015},
{"c":1,"x":0,"y":0},{"c":1,"x":0.05,"y":0.0032},{"c":1,"x":0.1,"y":0.0133},{"c":1,"x":0.15,"y":0.0307},{"c":1,"x":0.2,"y":0.0503},{"c":1,"x":0.25,"y":0.0658},{"c":1,"x":0.3,"y":0.0712},{"c":1,"x":0.35,"y":0.0662},{"c":1,"x":0.4,"y":0.0487},{"c":1,"x":0.45,"y":0.025},{"c":1,"x":0.5,"y":0.0022},{"c":1,"x":0.55,"y":-0.0253},{"c":1,"x":0.6,"y":-0.0462},{"c":1,"x":0.65,"y":-0.0578},{"c":1,"x":0.7,"y":-0.0603},{"c":1,"x":0.75,"y":-0.0534},{"c":1,"x":0.8,"y":-0.0411},{"c":1,"x":0.85,"y":-0.0128},{"c":1,"x":0.9,"y":0.0057},{"c":1,"x":0.95,"y":0.0289},{"c":1,"x":1,"y":0.0526},
{"c":2,"x":0,"y":0},{"c":2,"x":0.05,"y":0.003},{"c":2,"x":0.1,"y":0.0123},{"c":2,"x":0.15,"y":0.0284},{"c":2,"x":0.2,"y":0.0467},{"c":2,"x":0.25,"y":0.0612},{"c":2,"x":0.3,"y":0.0664},{"c":2,"x":0.35,"y":0.0618},{"c":2,"x":0.4,"y":0.0456},{"c":2,"x":0.45,"y":0.0235},{"c":2,"x":0.5,"y":0.0022},{"c":2,"x":0.55,"y":-0.0241},{"c":2,"x":0.6,"y":-0.0448},{"c":2,"x":0.65,"y":-0.057},{"c":2,"x":0.7,"y":-0.0598},{"c":2,"x":0.75,"y":-0.0525},{"c":2,"x":0.8,"y":-0.0383},{"c":2,"x":0.85,"y":-0.0044},{"c":2,"x":0.9,"y":0.0169},{"c":2,"x":0.95,"y":0.049},{"c":2,"x":1,"y":0.085},
{"c":3,"x":0,"y":0},{"c":3,"x":0.05,"y":0.0026},{"c":3,"x":0.1,"y":0.01},{"c":3,"x":0.15,"y":0.0233},{"c":3,"x":0.2,"y":0.0385},{"c":3,"x":0.25,"y":0.0505},{"c":3,"x":0.3,"y":0.0552},{"c":3,"x":0.35,"y":0.0514},{"c":3,"x":0.4,"y":0.0381},{"c":3,"x":0.45,"y":0.0198},{"c":3,"x":0.5,"y":0.002},{"c":3,"x":0.55,"y":-0.0206},{"c":3,"x":0.6,"y":-0.0391},{"c":3,"x":0.65,"y":-0.0506},{"c":3,"x":0.7,"y":-0.0533},{"c":3,"x":0.75,"y":-0.0466},{"c":3,"x":0.8,"y":-0.0316},{"c":3,"x":0.85,"y":0.0044},{"c":3,"x":0.9,"y":0.0264},{"c":3,"x":0.95,"y":0.0642},{"c":3,"x":1,"y":0.1091},
{"c":4,"x":0,"y":0},{"c":4,"x":0.05,"y":0.0019},{"c":4,"x":0.1,"y":0.0069},{"c":4,"x":0.15,"y":0.016},{"c":4,"x":0.2,"y":0.0265},{"c":4,"x":0.25,"y":0.035},{"c":4,"x":0.3,"y":0.0384},{"c":4,"x":0.35,"y":0.036},{"c":4,"x":0.4,"y":0.0269},{"c":4,"x":0.45,"y":0.0141},{"c":4,"x":0.5,"y":0.0016},{"c":4,"x":0.55,"y":-0.015},{"c":4,"x":0.6,"y":-0.0295},{"c":4,"x":0.65,"y":-0.0392},{"c":4,"x":0.7,"y":-0.0417},{"c":4,"x":0.75,"y":-0.036},{"c":4,"x":0.8,"y":-0.0219},{"c":4,"x":0.85,"y":0.0128},{"c":4,"x":0.9,"y":0.0333},{"c":4,"x":0.95,"y":0.0732},{"c":4,"x":1,"y":0.1225},
{"c":5,"x":0,"y":0},{"c":5,"x":0.05,"y":0.001},{"c":5,"x":0.1,"y":0.003},{"c":5,"x":0.15,"y":0.007},{"c":5,"x":0.2,"y":0.012},{"c":5,"x":0.25,"y":0.016},{"c":5,"x":0.3,"y":0.018},{"c":5,"x":0.35,"y":0.017},{"c":5,"x":0.4,"y":0.013},{"c":5,"x":0.45,"y":0.007},{"c":5,"x":0.5,"y":0.001},{"c":5,"x":0.55,"y":-0.008},{"c":5,"x":0.6,"y":-0.017},{"c":5,"x":0.65,"y":-0.024},{"c":5,"x":0.7,"y":-0.026},{"c":5,"x":0.75,"y":-0.022},{"c":5,"x":0.8,"y":-0.01},{"c":5,"x":0.85,"y":0.02},{"c":5,"x":0.9,"y":0.037},{"c":5,"x":0.95,"y":0.075},{"c":5,"x":1,"y":0.124},
{"c":6,"x":0,"y":0},{"c":6,"x":0.05,"y":0.0001},{"c":6,"x":0.1,"y":-0.0011},{"c":6,"x":0.15,"y":-0.0026},{"c":6,"x":0.2,"y":-0.0037},{"c":6,"x":0.25,"y":-0.0046},{"c":6,"x":0.3,"y":-0.0042},{"c":6,"x":0.35,"y":-0.0036},{"c":6,"x":0.4,"y":-0.0021},{"c":6,"x":0.45,"y":-0.0007},{"c":6,"x":0.5,"y":0.0004},{"c":6,"x":0.55,"y":-0.0002},{"c":6,"x":0.6,"y":-0.0029},{"c":6,"x":0.65,"y":-0.0064},{"c":6,"x":0.7,"y":-0.0077},{"c":6,"x":0.75,"y":-0.0058},{"c":6,"x":0.8,"y":0.0029},{"c":6,"x":0.85,"y":0.0252},{"c":6,"x":0.9,"y":0.0371},{"c":6,"x":0.95,"y":0.0694},{"c":6,"x":1,"y":0.1133},
{"c":7,"x":0,"y":0},{"c":7,"x":0.05,"y":-0.001},{"c":7,"x":0.1,"y":-0.0052},{"c":7,"x":0.15,"y":-0.0119},{"c":7,"x":0.2,"y":-0.0191},{"c":7,"x":0.25,"y":-0.0247},{"c":7,"x":0.3,"y":-0.026},{"c":7,"x":0.35,"y":-0.0238},{"c":7,"x":0.4,"y":-0.0171},{"c":7,"x":0.45,"y":-0.0084},{"c":7,"x":0.5,"y":-0.0004},{"c":7,"x":0.55,"y":0.0076},{"c":7,"x":0.6,"y":0.0115},{"c":7,"x":0.65,"y":0.0118},{"c":7,"x":0.7,"y":0.0113},{"c":7,"x":0.75,"y":0.011},{"c":7,"x":0.8,"y":0.0154},{"c":7,"x":0.85,"y":0.028},{"c":7,"x":0.9,"y":0.0334},{"c":7,"x":0.95,"y":0.0572},{"c":7,"x":1,"y":0.0915},
{"c":8,"x":0,"y":0},{"c":8,"x":0.05,"y":-0.0018},{"c":8,"x":0.1,"y":-0.0087},{"c":8,"x":0.15,"y":-0.0202},{"c":8,"x":0.2,"y":-0.0325},{"c":8,"x":0.25,"y":-0.0424},{"c":8,"x":0.3,"y":-0.0452},{"c":8,"x":0.35,"y":-0.0418},{"c":8,"x":0.4,"y":-0.0304},{"c":8,"x":0.45,"y":-0.0153},{"c":8,"x":0.5,"y":-0.001},{"c":8,"x":0.55,"y":0.0147},{"c":8,"x":0.6,"y":0.0248},{"c":8,"x":0.65,"y":0.0288},{"c":8,"x":0.7,"y":0.0292},{"c":8,"x":0.75,"y":0.0267},{"c":8,"x":0.8,"y":0.0265},{"c":8,"x":0.85,"y":0.028},{"c":8,"x":0.9,"y":0.0267},{"c":8,"x":0.95,"y":0.0392},{"c":8,"x":1,"y":0.0608},
{"c":9,"x":0,"y":0},{"c":9,"x":0.05,"y":-0.0026},{"c":9,"x":0.1,"y":-0.0115},{"c":9,"x":0.15,"y":-0.0263},{"c":9,"x":0.2,"y":-0.0429},{"c":9,"x":0.25,"y":-0.056},{"c":9,"x":0.3,"y":-0.06},{"c":9,"x":0.35,"y":-0.0556},{"c":9,"x":0.4,"y":-0.0407},{"c":9,"x":0.45,"y":-0.0206},{"c":9,"x":0.5,"y":-0.0016},{"c":9,"x":0.55,"y":0.0203},{"c":9,"x":0.6,"y":0.0356},{"c":9,"x":0.65,"y":0.043},{"c":9,"x":0.7,"y":0.0443},{"c":9,"x":0.75,"y":0.0398},{"c":9,"x":0.8,"y":0.0349},{"c":9,"x":0.85,"y":0.0252},{"c":9,"x":0.9,"y":0.0171},{"c":9,"x":0.95,"y":0.0175},{"c":9,"x":1,"y":0.024},
{"c":10,"x":0,"y":0},{"c":10,"x":0.05,"y":-0.003},{"c":10,"x":0.1,"y":-0.013},{"c":10,"x":0.15,"y":-0.03},{"c":10,"x":0.2,"y":-0.049},{"c":10,"x":0.25,"y":-0.064},{"c":10,"x":0.3,"y":-0.069},{"c":10,"x":0.35,"y":-0.064},{"c":10,"x":0.4,"y":-0.047},{"c":10,"x":0.45,"y":-0.024},{"c":10,"x":0.5,"y":-0.002},{"c":10,"x":0.55,"y":0.024},{"c":10,"x":0.6,"y":0.043},{"c":10,"x":0.65,"y":0.053},{"c":10,"x":0.7,"y":0.055},{"c":10,"x":0.75,"y":0.049},{"c":10,"x":0.8,"y":0.04},{"c":10,"x":0.85,"y":0.02},{"c":10,"x":0.9,"y":0.006},{"c":10,"x":0.95,"y":-0.006},{"c":10,"x":1,"y":-0.015},
{"c":11,"x":0,"y":0},{"c":11,"x":0.05,"y":-0.0032},{"c":11,"x":0.1,"y":-0.0133},{"c":11,"x":0.15,"y":-0.0307},{"c":11,"x":0.2,"y":-0.0503},{"c":11,"x":0.25,"y":-0.0658},{"c":11,"x":0.3,"y":-0.0712},{"c":11,"x":0.35,"y":-0.0662},{"c":11,"x":0.4,"y":-0.0487},{"c":11,"x":0.45,"y":-0.025},{"c":11,"x":0.5,"y":-0.0022},{"c":11,"x":0.55,"y":0.0253},{"c":11,"x":0.6,"y":0.0462},{"c":11,"x":0.65,"y":0.0578},{"c":11,"x":0.7,"y":0.0603},{"c":11,"x":0.75,"y":0.0534},{"c":11,"x":0.8,"y":0.0411},{"c":11,"x":0.85,"y":0.0128},{"c":11,"x":0.9,"y":-0.0057},{"c":11,"x":0.95,"y":-0.0289},{"c":11,"x":1,"y":-0.0526},
{"c":12,"x":0,"y":0},{"c":12,"x":0.05,"y":-0.003},{"c":12,"x":0.1,"y":-0.0123},{"c":12,"x":0.15,"y":-0.0284},{"c":12,"x":0.2,"y":-0.0467},{"c":12,"x":0.25,"y":-0.0612},{"c":12,"x":0.3,"y":-0.0664},{"c":12,"x":0.35,"y":-0.0618},{"c":12,"x":0.4,"y":-0.0456},{"c":12,"x":0.45,"y":-0.0235},{"c":12,"x":0.5,"y":-0.0022},{"c":12,"x":0.55,"y":0.0241},{"c":12,"x":0.6,"y":0.0448},{"c":12,"x":0.65,"y":0.057},{"c":12,"x":0.7,"y":0.0598},{"c":12,"x":0.75,"y":0.0525},{"c":12,"x":0.8,"y":0.0383},{"c":12,"x":0.85,"y":0.0044},{"c":12,"x":0.9,"y":-0.0169},{"c":12,"x":0.95,"y":-0.049},{"c":12,"x":1,"y":-0.085},
{"c":13,"x":0,"y":0},{"c":13,"x":0.05,"y":-0.0026},{"c":13,"x":0.1,"y":-0.01},{"c":13,"x":0.15,"y":-0.0233},{"c":13,"x":0.2,"y":-0.0385},{"c":13,"x":0.25,"y":-0.0505},{"c":13,"x":0.3,"y":-0.0552},{"c":13,"x":0.35,"y":-0.0514},{"c":13,"x":0.4,"y":-0.0381},{"c":13,"x":0.45,"y":-0.0198},{"c":13,"x":0.5,"y":-0.002},{"c":13,"x":0.55,"y":0.0206},{"c":13,"x":0.6,"y":0.0391},{"c":13,"x":0.65,"y":0.0506},{"c":13,"x":0.7,"y":0.0533},{"c":13,"x":0.75,"y":0.0466},{"c":13,"x":0.8,"y":0.0316},{"c":13,"x":0.85,"y":-0.0044},{"c":13,"x":0.9,"y":-0.0264},{"c":13,"x":0.95,"y":-0.0642},{"c":13,"x":1,"y":-0.1091},
{"c":14,"x":0,"y":0},{"c":14,"x":0.05,"y":-0.0019},{"c":14,"x":0.1,"y":-0.0069},{"c":14,"x":0.15,"y":-0.016},{"c":14,"x":0.2,"y":-0.0265},{"c":14,"x":0.25,"y":-0.035},{"c":14,"x":0.3,"y":-0.0384},{"c":14,"x":0.35,"y":-0.036},{"c":14,"x":0.4,"y":-0.0269},{"c":14,"x":0.45,"y":-0.0141},{"c":14,"x":0.5,"y":-0.0016},{"c":14,"x":0.55,"y":0.015},{"c":14,"x":0.6,"y":0.0295},{"c":14,"x":0.65,"y":0.0392},{"c":14,"x":0.7,"y":0.0417},{"c":14,"x":0.75,"y":0.036},{"c":14,"x":0.8,"y":0.0219},{"c":14,"x":0.85,"y":-0.0128},{"c":14,"x":0.9,"y":-0.0333},{"c":14,"x":0.95,"y":-0.0732},{"c":14,"x":1,"y":-0.1225},
{"c":15,"x":0,"y":0},{"c":15,"x":0.05,"y":-0.001},{"c":15,"x":0.1,"y":-0.003},{"c":15,"x":0.15,"y":-0.007},{"c":15,"x":0.2,"y":-0.012},{"c":15,"x":0.25,"y":-0.016},{"c":15,"x":0.3,"y":-0.018},{"c":15,"x":0.35,"y":-0.017},{"c":15,"x":0.4,"y":-0.013},{"c":15,"x":0.45,"y":-0.007},{"c":15,"x":0.5,"y":-0.001},{"c":15,"x":0.55,"y":0.008},{"c":15,"x":0.6,"y":0.017},{"c":15,"x":0.65,"y":0.024},{"c":15,"x":0.7,"y":0.026},{"c":15,"x":0.75,"y":0.022},{"c":15,"x":0.8,"y":0.01},{"c":15,"x":0.85,"y":-0.02},{"c":15,"x":0.9,"y":-0.037},{"c":15,"x":0.95,"y":-0.075},{"c":15,"x":1,"y":-0.124},
{"c":16,"x":0,"y":0},{"c":16,"x":0.05,"y":-0.0001},{"c":16,"x":0.1,"y":0.0011},{"c":16,"x":0.15,"y":0.0026},{"c":16,"x":0.2,"y":0.0037},{"c":16,"x":0.25,"y":0.0046},{"c":16,"x":0.3,"y":0.0042},{"c":16,"x":0.35,"y":0.0036},{"c":16,"x":0.4,"y":0.0021},{"c":16,"x":0.45,"y":0.0007},{"c":16,"x":0.5,"y":-0.0004},{"c":16,"x":0.55,"y":0.0002},{"c":16,"x":0.6,"y":0.0029},{"c":16,"x":0.65,"y":0.0064},{"c":16,"x":0.7,"y":0.0077},{"c":16,"x":0.75,"y":0.0058},{"c":16,"x":0.8,"y":-0.0029},{"c":16,"x":0.85,"y":-0.0252},{"c":16,"x":0.9,"y":-0.0371},{"c":16,"x":0.95,"y":-0.0694},{"c":16,"x":1,"y":-0.1133},
{"c":17,"x":0,"y":0},{"c":17,"x":0.05,"y":0.001},{"c":17,"x":0.1,"y":0.0052},{"c":17,"x":0.15,"y":0.0119},{"c":17,"x":0.2,"y":0.0191},{"c":17,"x":0.25,"y":0.0247},{"c":17,"x":0.3,"y":0.026},{"c":17,"x":0.35,"y":0.0238},{"c":17,"x":0.4,"y":0.0171},{"c":17,"x":0.45,"y":0.0084},{"c":17,"x":0.5,"y":0.0004},{"c":17,"x":0.55,"y":-0.0076},{"c":17,"x":0.6,"y":-0.0115},{"c":17,"x":0.65,"y":-0.0118},{"c":17,"x":0.7,"y":-0.0113},{"c":17,"x":0.75,"y":-0.011},{"c":17,"x":0.8,"y":-0.0154},{"c":17,"x":0.85,"y":-0.028},{"c":17,"x":0.9,"y":-0.0334},{"c":17,"x":0.95,"y":-0.0572},{"c":17,"x":1,"y":-0.0915},
{"c":18,"x":0,"y":0},{"c":18,"x":0.05,"y":0.0018},{"c":18,"x":0.1,"y":0.0087},{"c":18,"x":0.15,"y":0.0202},{"c":18,"x":0.2,"y":0.0325},{"c":18,"x":0.25,"y":0.0424},{"c":18,"x":0.3,"y":0.0452},{"c":18,"x":0.35,"y":0.0418},{"c":18,"x":0.4,"y":0.0304},{"c":18,"x":0.45,"y":0.0153},{"c":18,"x":0.5,"y":0.001},{"c":18,"x":0.55,"y":-0.0147},{"c":18,"x":0.6,"y":-0.0248},{"c":18,"x":0.65,"y":-0.0288},{"c":18,"x":0.7,"y":-0.0292},{"c":18,"x":0.75,"y":-0.0267},{"c":18,"x":0.8,"y":-0.0265},{"c":18,"x":0.85,"y":-0.028},{"c":18,"x":0.9,"y":-0.0267},{"c":18,"x":0.95,"y":-0.0392},{"c":18,"x":1,"y":-0.0608},
{"c":19,"x":0,"y":0},{"c":19,"x":0.05,"y":0.0026},{"c":19,"x":0.1,"y":0.0115},{"c":19,"x":0.15,"y":0.0263},{"c":19,"x":0.2,"y":0.0429},{"c":19,"x":0.25,"y":0.056},{"c":19,"x":0.3,"y":0.06},{"c":19,"x":0.35,"y":0.0556},{"c":19,"x":0.4,"y":0.0407},{"c":19,"x":0.45,"y":0.0206},{"c":19,"x":0.5,"y":0.0016},{"c":19,"x":0.55,"y":-0.0203},{"c":19,"x":0.6,"y":-0.0356},{"c":19,"x":0.65,"y":-0.043},{"c":19,"x":0.7,"y":-0.0443},{"c":19,"x":0.75,"y":-0.0398},{"c":19,"x":0.8,"y":-0.0349},{"c":19,"x":0.85,"y":-0.0252},{"c":19,"x":0.9,"y":-0.0171},{"c":19,"x":0.95,"y":-0.0175},{"c":19,"x":1,"y":-0.024},
{"c":20,"x":0,"y":0},{"c":20,"x":0.05,"y":0.0032},{"c":20,"x":0.1,"y":0.0133},{"c":20,"x":0.15,"y":0.0307},{"c":20,"x":0.2,"y":0.0503},{"c":20,"x":0.25,"y":0.0657},{"c":20,"x":0.3,"y":0.071},{"c":20,"x":0.35,"y":0.0659},{"c":20,"x":0.4,"y":0.0484},{"c":20,"x":0.45,"y":0.0248},{"c":20,"x":0.5,"y":0.0022},{"c":20,"x":0.55,"y":-0.0249},{"c":20,"x":0.6,"y":-0.0452},{"c":20,"x":0.65,"y":-0.0561},{"c":20,"x":0.7,"y":-0.0584},{"c":20,"x":0.75,"y":-0.0518},{"c":20,"x":0.8,"y":-0.0411},{"c":20,"x":0.85,"y":-0.0167},{"c":20,"x":0.9,"y":-0.0001},{"c":20,"x":0.95,"y":0.0176},{"c":20,"x":1,"y":0.0341},
{"c":21,"x":0,"y":0},{"c":21,"x":0.05,"y":0.0032},{"c":21,"x":0.1,"y":0.013},{"c":21,"x":0.15,"y":0.0299},{"c":21,"x":0.2,"y":0.0491},{"c":21,"x":0.25,"y":0.0643},{"c":21,"x":0.3,"y":0.0697},{"c":21,"x":0.35,"y":0.0647},{"c":21,"x":0.4,"y":0.0478},{"c":21,"x":0.45,"y":0.0246},{"c":21,"x":0.5,"y":0.0023},{"c":21,"x":0.55,"y":-0.025},{"c":21,"x":0.6,"y":-0.046},{"c":21,"x":0.65,"y":-0.0581},{"c":21,"x":0.7,"y":-0.0608},{"c":21,"x":0.75,"y":-0.0537},{"c":21,"x":0.8,"y":-0.0401},{"c":21,"x":0.85,"y":-0.0087},{"c":21,"x":0.9,"y":0.0115},{"c":21,"x":0.95,"y":0.0394},{"c":21,"x":1,"y":0.0697},
{"c":22,"x":0,"y":0},{"c":22,"x":0.05,"y":0.0028},{"c":22,"x":0.1,"y":0.0113},{"c":22,"x":0.15,"y":0.0261},{"c":22,"x":0.2,"y":0.0431},{"c":22,"x":0.25,"y":0.0565},{"c":22,"x":0.3,"y":0.0615},{"c":22,"x":0.35,"y":0.0572},{"c":22,"x":0.4,"y":0.0424},{"c":22,"x":0.45,"y":0.0219},{"c":22,"x":0.5,"y":0.0021},{"c":22,"x":0.55,"y":-0.0227},{"c":22,"x":0.6,"y":-0.0424},{"c":22,"x":0.65,"y":-0.0545},{"c":22,"x":0.7,"y":-0.0573},{"c":22,"x":0.75,"y":-0.0502},{"c":22,"x":0.8,"y":-0.0354},{"c":22,"x":0.85,"y":0},{"c":22,"x":0.9,"y":0.022},{"c":22,"x":0.95,"y":0.0572},{"c":22,"x":1,"y":0.0983},
{"c":23,"x":0,"y":0},{"c":23,"x":0.05,"y":0.0023},{"c":23,"x":0.1,"y":0.0086},{"c":23,"x":0.15,"y":0.0198},{"c":23,"x":0.2,"y":0.0329},{"c":23,"x":0.25,"y":0.0434},{"c":23,"x":0.3,"y":0.0473},{"c":23,"x":0.35,"y":0.0442},{"c":23,"x":0.4,"y":0.0329},{"c":23,"x":0.45,"y":0.0171},{"c":23,"x":0.5,"y":0.0018},{"c":23,"x":0.55,"y":-0.018},{"c":23,"x":0.6,"y":-0.0346},{"c":23,"x":0.65,"y":-0.0455},{"c":23,"x":0.7,"y":-0.0482},{"c":23,"x":0.75,"y":-0.0418},{"c":23,"x":0.8,"y":-0.0271},{"c":23,"x":0.85,"y":0.0087},{"c":23,"x":0.9,"y":0.0303},{"c":23,"x":0.95,"y":0.0695},{"c":23,"x":1,"y":0.1173},
{"c":24,"x":0,"y":0},{"c":24,"x":0.05,"y":0.0015},{"c":24,"x":0.1,"y":0.005},{"c":24,"x":0.15,"y":0.0116},{"c":24,"x":0.2,"y":0.0195},{"c":24,"x":0.25,"y":0.0258},{"c":24,"x":0.3,"y":0.0286},{"c":24,"x":0.35,"y":0.0268},{"c":24,"x":0.4,"y":0.0201},{"c":24,"x":0.45,"y":0.0106},{"c":24,"x":0.5,"y":0.0013},{"c":24,"x":0.55,"y":-0.0116},{"c":24,"x":0.6,"y":-0.0235},{"c":24,"x":0.65,"y":-0.032},{"c":24,"x":0.7,"y":-0.0343},{"c":24,"x":0.75,"y":-0.0293},{"c":24,"x":0.8,"y":-0.0161},{"c":24,"x":0.85,"y":0.0167},{"c":24,"x":0.9,"y":0.0357},{"c":24,"x":0.95,"y":0.075},{"c":24,"x":1,"y":0.1248},
{"c":25,"x":0,"y":0},{"c":25,"x":0.05,"y":0.0005},{"c":25,"x":0.1,"y":0.001},{"c":25,"x":0.15,"y":0.0022},{"c":25,"x":0.2,"y":0.0043},{"c":25,"x":0.25,"y":0.0058},{"c":25,"x":0.3,"y":0.007},{"c":25,"x":0.35,"y":0.0068},{"c":25,"x":0.4,"y":0.0055},{"c":25,"x":0.45,"y":0.0032},{"c":25,"x":0.5,"y":0.0007},{"c":25,"x":0.55,"y":-0.0042},{"c":25,"x":0.6,"y":-0.0101},{"c":25,"x":0.65,"y":-0.0154},{"c":25,"x":0.7,"y":-0.0171},{"c":25,"x":0.75,"y":-0.0141},{"c":25,"x":0.8,"y":-0.0037},{"c":25,"x":0.85,"y":0.0229},{"c":25,"x":0.9,"y":0.0375},{"c":25,"x":0.95,"y":0.0732},{"c":25,"x":1,"y":0.1202},
{"c":26,"x":0,"y":0},{"c":26,"x":0.05,"y":-0.0005},{"c":26,"x":0.1,"y":-0.0032},{"c":26,"x":0.15,"y":-0.0074},{"c":26,"x":0.2,"y":-0.0115},{"c":26,"x":0.25,"y":-0.0148},{"c":26,"x":0.3,"y":-0.0153},{"c":26,"x":0.35,"y":-0.014},{"c":26,"x":0.4,"y":-0.0097},{"c":26,"x":0.45,"y":-0.0047},{"c":26,"x":0.5,"y":0},{"c":26,"x":0.55,"y":0.0038},{"c":26,"x":0.6,"y":0.0044},{"c":26,"x":0.65,"y":0.0027},{"c":26,"x":0.7,"y":0.0018},{"c":26,"x":0.75,"y":0.0026},{"c":26,"x":0.8,"y":0.0093},{"c":26,"x":0.85,"y":0.0269},{"c":26,"x":0.9,"y":0.0357},{"c":26,"x":0.95,"y":0.0641},{"c":26,"x":1,"y":0.1037},
{"c":27,"x":0,"y":0},{"c":27,"x":0.05,"y":-0.0014},{"c":27,"x":0.1,"y":-0.0071},{"c":27,"x":0.15,"y":-0.0163},{"c":27,"x":0.2,"y":-0.0261},{"c":27,"x":0.25,"y":-0.0339},{"c":27,"x":0.3,"y":-0.0361},{"c":27,"x":0.35,"y":-0.0332},{"c":27,"x":0.4,"y":-0.024},{"c":27,"x":0.45,"y":-0.0121},{"c":27,"x":0.5,"y":-0.0007},{"c":27,"x":0.55,"y":0.0113},{"c":27,"x":0.6,"y":0.0184},{"c":27,"x":0.65,"y":0.0205},{"c":27,"x":0.7,"y":0.0205},{"c":27,"x":0.75,"y":0.019},{"c":27,"x":0.8,"y":0.0212},{"c":27,"x":0.85,"y":0.0282},{"c":27,"x":0.9,"y":0.0304},{"c":27,"x":0.95,"y":0.0488},{"c":27,"x":1,"y":0.0771},
{"c":28,"x":0,"y":0},{"c":28,"x":0.05,"y":-0.0022},{"c":28,"x":0.1,"y":-0.0102},{"c":28,"x":0.15,"y":-0.0235},{"c":28,"x":0.2,"y":-0.0383},{"c":28,"x":0.25,"y":-0.0497},{"c":28,"x":0.3,"y":-0.0533},{"c":28,"x":0.35,"y":-0.0493},{"c":28,"x":0.4,"y":-0.036},{"c":28,"x":0.45,"y":-0.0182},{"c":28,"x":0.5,"y":-0.0013},{"c":28,"x":0.55,"y":0.0178},{"c":28,"x":0.6,"y":0.0306},{"c":28,"x":0.65,"y":0.0363},{"c":28,"x":0.7,"y":0.0372},{"c":28,"x":0.75,"y":0.0337},{"c":28,"x":0.8,"y":0.0311},{"c":28,"x":0.85,"y":0.0269},{"c":28,"x":0.9,"y":0.0221},{"c":28,"x":0.95,"y":0.0288},{"c":28,"x":1,"y":0.0429},
{"c":29,"x":0,"y":0},{"c":29,"x":0.05,"y":-0.0028},{"c":29,"x":0.1,"y":-0.0123},{"c":29,"x":0.15,"y":-0.0285},{"c":29,"x":0.2,"y":-0.0465},{"c":29,"x":0.25,"y":-0.0607},{"c":29,"x":0.3,"y":-0.0654},{"c":29,"x":0.35,"y":-0.0605},{"c":29,"x":0.4,"y":-0.0444},{"c":29,"x":0.45,"y":-0.0226},{"c":29,"x":0.5,"y":-0.0018},{"c":29,"x":0.55,"y":0.0225},{"c":29,"x":0.6,"y":0.0398},{"c":29,"x":0.65,"y":0.0487},{"c":29,"x":0.7,"y":0.0502},{"c":29,"x":0.75,"y":0.045},{"c":29,"x":0.8,"y":0.0379},{"c":29,"x":0.85,"y":0.0229},{"c":29,"x":0.9,"y":0.0117},{"c":29,"x":0.95,"y":0.0058},{"c":29,"x":1,"y":0.0045},
{"c":30,"x":0,"y":0},{"c":30,"x":0.05,"y":-0.0032},{"c":30,"x":0.1,"y":-0.0133},{"c":30,"x":0.15,"y":-0.0307},{"c":30,"x":0.2,"y":-0.0503},{"c":30,"x":0.25,"y":-0.0657},{"c":30,"x":0.3,"y":-0.071},{"c":30,"x":0.35,"y":-0.0659},{"c":30,"x":0.4,"y":-0.0484},{"c":30,"x":0.45,"y":-0.0248},{"c":30,"x":0.5,"y":-0.0022},{"c":30,"x":0.55,"y":0.0249},{"c":30,"x":0.6,"y":0.0452},{"c":30,"x":0.65,"y":0.0561},{"c":30,"x":0.7,"y":0.0584},{"c":30,"x":0.75,"y":0.0518},{"c":30,"x":0.8,"y":0.0411},{"c":30,"x":0.85,"y":0.0167},{"c":30,"x":0.9,"y":0.0001},{"c":30,"x":0.95,"y":-0.0176},{"c":30,"x":1,"y":-0.0341},
{"c":31,"x":0,"y":0},{"c":31,"x":0.05,"y":-0.0032},{"c":31,"x":0.1,"y":-0.013},{"c":31,"x":0.15,"y":-0.0299},{"c":31,"x":0.2,"y":-0.0491},{"c":31,"x":0.25,"y":-0.0643},{"c":31,"x":0.3,"y":-0.0697},{"c":31,"x":0.35,"y":-0.0647},{"c":31,"x":0.4,"y":-0.0478},{"c":31,"x":0.45,"y":-0.0246},{"c":31,"x":0.5,"y":-0.0023},{"c":31,"x":0.55,"y":0.025},{"c":31,"x":0.6,"y":0.046},{"c":31,"x":0.65,"y":0.0581},{"c":31,"x":0.7,"y":0.0608},{"c":31,"x":0.75,"y":0.0537},{"c":31,"x":0.8,"y":0.0401},{"c":31,"x":0.85,"y":0.0087},{"c":31,"x":0.9,"y":-0.0115},{"c":31,"x":0.95,"y":-0.0394},{"c":31,"x":1,"y":-0.0697},
{"c":32,"x":0,"y":0},{"c":32,"x":0.05,"y":-0.0028},{"c":32,"x":0.1,"y":-0.0113},{"c":32,"x":0.15,"y":-0.0261},{"c":32,"x":0.2,"y":-0.0431},{"c":32,"x":0.25,"y":-0.0565},{"c":32,"x":0.3,"y":-0.0615},{"c":32,"x":0.35,"y":-0.0572},{"c":32,"x":0.4,"y":-0.0424},{"c":32,"x":0.45,"y":-0.0219},{"c":32,"x":0.5,"y":-0.0021},{"c":32,"x":0.55,"y":0.0227},{"c":32,"x":0.6,"y":0.0424},{"c":32,"x":0.65,"y":0.0545},{"c":32,"x":0.7,"y":0.0573},{"c":32,"x":0.75,"y":0.0502},{"c":32,"x":0.8,"y":0.0354},{"c":32,"x":0.85,"y":0},{"c":32,"x":0.9,"y":-0.022},{"c":32,"x":0.95,"y":-0.0572},{"c":32,"x":1,"y":-0.0983},
{"c":33,"x":0,"y":0},{"c":33,"x":0.05,"y":-0.0023},{"c":33,"x":0.1,"y":-0.0086},{"c":33,"x":0.15,"y":-0.0198},{"c":33,"x":0.2,"y":-0.0329},{"c":33,"x":0.25,"y":-0.0434},{"c":33,"x":0.3,"y":-0.0473},{"c":33,"x":0.35,"y":-0.0442},{"c":33,"x":0.4,"y":-0.0329},{"c":33,"x":0.45,"y":-0.0171},{"c":33,"x":0.5,"y":-0.0018},{"c":33,"x":0.55,"y":0.018},{"c":33,"x":0.6,"y":0.0346},{"c":33,"x":0.65,"y":0.0455},{"c":33,"x":0.7,"y":0.0482},{"c":33,"x":0.75,"y":0.0418},{"c":33,"x":0.8,"y":0.0271},{"c":33,"x":0.85,"y":-0.0087},{"c":33,"x":0.9,"y":-0.0303},{"c":33,"x":0.95,"y":-0.0695},{"c":33,"x":1,"y":-0.1173},
{"c":34,"x":0,"y":0},{"c":34,"x":0.05,"y":-0.0015},{"c":34,"x":0.1,"y":-0.005},{"c":34,"x":0.15,"y":-0.0116},{"c":34,"x":0.2,"y":-0.0195},{"c":34,"x":0.25,"y":-0.0258},{"c":34,"x":0.3,"y":-0.0286},{"c":34,"x":0.35,"y":-0.0268},{"c":34,"x":0.4,"y":-0.0201},{"c":34,"x":0.45,"y":-0.0106},{"c":34,"x":0.5,"y":-0.0013},{"c":34,"x":0.55,"y":0.0116},{"c":34,"x":0.6,"y":0.0235},{"c":34,"x":0.65,"y":0.032},{"c":34,"x":0.7,"y":0.0343},{"c":34,"x":0.75,"y":0.0293},{"c":34,"x":0.8,"y":0.0161},{"c":34,"x":0.85,"y":-0.0167},{"c":34,"x":0.9,"y":-0.0357},{"c":34,"x":0.95,"y":-0.075},{"c":34,"x":1,"y":-0.1248},
{"c":35,"x":0,"y":0},{"c":35,"x":0.05,"y":-0.0005},{"c":35,"x":0.1,"y":-0.001},{"c":35,"x":0.15,"y":-0.0022},{"c":35,"x":0.2,"y":-0.0043},{"c":35,"x":0.25,"y":-0.0058},{"c":35,"x":0.3,"y":-0.007},{"c":35,"x":0.35,"y":-0.0068},{"c":35,"x":0.4,"y":-0.0055},{"c":35,"x":0.45,"y":-0.0032},{"c":35,"x":0.5,"y":-0.0007},{"c":35,"x":0.55,"y":0.0042},{"c":35,"x":0.6,"y":0.0101},{"c":35,"x":0.65,"y":0.0154},{"c":35,"x":0.7,"y":0.0171},{"c":35,"x":0.75,"y":0.0141},{"c":35,"x":0.8,"y":0.0037},{"c":35,"x":0.85,"y":-0.0229},{"c":35,"x":0.9,"y":-0.0375},{"c":35,"x":0.95,"y":-0.0732},{"c":35,"x":1,"y":-0.1202},
{"c":36,"x":0,"y":0},{"c":36,"x":0.05,"y":0.0005},{"c":36,"x":0.1,"y":0.0032},{"c":36,"x":0.15,"y":0.0074},{"c":36,"x":0.2,"y":0.0115},{"c":36,"x":0.25,"y":0.0148},{"c":36,"x":0.3,"y":0.0153},{"c":36,"x":0.35,"y":0.014},{"c":36,"x":0.4,"y":0.0097},{"c":36,"x":0.45,"y":0.0047},{"c":36,"x":0.5,"y":0},{"c":36,"x":0.55,"y":-0.0038},{"c":36,"x":0.6,"y":-0.0044},{"c":36,"x":0.65,"y":-0.0027},{"c":36,"x":0.7,"y":-0.0018},{"c":36,"x":0.75,"y":-0.0026},{"c":36,"x":0.8,"y":-0.0093},{"c":36,"x":0.85,"y":-0.0269},{"c":36,"x":0.9,"y":-0.0357},{"c":36,"x":0.95,"y":-0.0641},{"c":36,"x":1,"y":-0.1037},
{"c":37,"x":0,"y":0},{"c":37,"x":0.05,"y":0.0014},{"c":37,"x":0.1,"y":0.0071},{"c":37,"x":0.15,"y":0.0163},{"c":37,"x":0.2,"y":0.0261},{"c":37,"x":0.25,"y":0.0339},{"c":37,"x":0.3,"y":0.0361},{"c":37,"x":0.35,"y":0.0332},{"c":37,"x":0.4,"y":0.024},{"c":37,"x":0.45,"y":0.0121},{"c":37,"x":0.5,"y":0.0007},{"c":37,"x":0.55,"y":-0.0113},{"c":37,"x":0.6,"y":-0.0184},{"c":37,"x":0.65,"y":-0.0205},{"c":37,"x":0.7,"y":-0.0205},{"c":37,"x":0.75,"y":-0.019},{"c":37,"x":0.8,"y":-0.0212},{"c":37,"x":0.85,"y":-0.0282},{"c":37,"x":0.9,"y":-0.0304},{"c":37,"x":0.95,"y":-0.0488},{"c":37,"x":1,"y":-0.0771},
{"c":38,"x":0,"y":0},{"c":38,"x":0.05,"y":0.0022},{"c":38,"x":0.1,"y":0.0102},{"c":38,"x":0.15,"y":0.0235},{"c":38,"x":0.2,"y":0.0383},{"c":38,"x":0.25,"y":0.0497},{"c":38,"x":0.3,"y":0.0533},{"c":38,"x":0.35,"y":0.0493},{"c":38,"x":0.4,"y":0.036},{"c":38,"x":0.45,"y":0.0182},{"c":38,"x":0.5,"y":0.0013},{"c":38,"x":0.55,"y":-0.0178},{"c":38,"x":0.6,"y":-0.0306},{"c":38,"x":0.65,"y":-0.0363},{"c":38,"x":0.7,"y":-0.0372},{"c":38,"x":0.75,"y":-0.0337},{"c":38,"x":0.8,"y":-0.0311},{"c":38,"x":0.85,"y":-0.0269},{"c":38,"x":0.9,"y":-0.0221},{"c":38,"x":0.95,"y":-0.0288},{"c":38,"x":1,"y":-0.0429},
{"c":39,"x":0,"y":0},{"c":39,"x":0.05,"y":0.0028},{"c":39,"x":0.1,"y":0.0123},{"c":39,"x":0.15,"y":0.0285},{"c":39,"x":0.2,"y":0.0465},{"c":39,"x":0.25,"y":0.0607},{"c":39,"x":0.3,"y":0.0654},{"c":39,"x":0.35,"y":0.0605},{"c":39,"x":0.4,"y":0.0444},{"c":39,"x":0.45,"y":0.0226},{"c":39,"x":0.5,"y":0.0018},{"c":39,"x":0.55,"y":-0.0225},{"c":39,"x":0.6,"y":-0.0398},{"c":39,"x":0.65,"y":-0.0487},{"c":39,"x":0.7,"y":-0.0502},{"c":39,"x":0.75,"y":-0.045},{"c":39,"x":0.8,"y":-0.0379},{"c":39,"x":0.85,"y":-0.0229},{"c":39,"x":0.9,"y":-0.0117},{"c":39,"x":0.95,"y":-0.0058},{"c":39,"x":1,"y":-0.0045}
],
"d":[
{"c":0,"x":0,"y":0},{"c":0,"x":0.05,"y":0.003},{"c":0,"x":0.1,"y":0.013},{"c":0,"x":0.15,"y":0.031},{"c":0,"x":0.2,"y":0.05},{"c":0,"x":0.25,"y":0.066},{"c":0,"x":0.3,"y":0.071},{"c":0,"x":0.35,"y":0.066},{"c":0,"x":0.4,"y":0.048},{"c":0,"x":0.45,"y":0.025},{"c":0,"x":0.5,"y":0.002},{"c":0,"x":0.55,"y":-0.026},{"c":0,"x":0.6,"y":-0.046},{"c":0,"x":0.65,"y":-0.057},{"c":0,"x":0.7,"y":-0.059},{"c":0,"x":0.75,"y":-0.053},{"c":0,"x":0.8,"y":-0.042},{"c":0,"x":0.85,"y":-0.02},{"c":0,"x":0.9,"y":-0.005},{"c":0,"x":0.95,"y":0.007},{"c":0,"x":1,"y":0.016},
{"c":1,"x":0,"y":0},{"c":1,"x":0.05,"y":0.0032},{"c":1,"x":0.1,"y":0.0133},{"c":1,"x":0.15,"y":0.0317},{"c":1,"x":0.2,"y":0.0513},{"c":1,"x":0.25,"y":0.0677},{"c":1,"x":0.3,"y":0.0731},{"c":1,"x":0.35,"y":0.0681},{"c":1,"x":0.4,"y":0.0496},{"c":1,"x":0.45,"y":0.026},{"c":1,"x":0.5,"y":0.0022},{"c":1,"x":0.55,"y":-0.0272},{"c":1,"x":0.6,"y":-0.049},{"c":1,"x":0.65,"y":-0.0616},{"c":1,"x":0.7,"y":-0.0641},{"c":1,"x":0.75,"y":-0.0572},{"c":1,"x":0.8,"y":-0.043},{"c":1,"x":0.85,"y":-0.0134},{"c":1,"x":0.9,"y":0.0069},{"c":1,"x":0.95,"y":0.0305},{"c":1,"x":1,"y":0.0541},
{"c":2,"x":0,"y":0},{"c":2,"x":0.05,"y":0.003},{"c":2,"x":0.1,"y":0.0123},{"c":2,"x":0.15,"y":0.0292},{"c":2,"x":0.2,"y":0.0476},{"c":2,"x":0.25,"y":0.0628},{"c":2,"x":0.3,"y":0.068},{"c":2,"x":0.35,"y":0.0634},{"c":2,"x":0.4,"y":0.0464},{"c":2,"x":0.45,"y":0.0243},{"c":2,"x":0.5,"y":0.0022},{"c":2,"x":0.55,"y":-0.0257},{"c":2,"x":0.6,"y":-0.0472},{"c":2,"x":0.65,"y":-0.0602},{"c":2,"x":0.7,"y":-0.063},{"c":2,"x":0.75,"y":-0.0558},{"c":2,"x":0.8,"y":-0.0399},{"c":2,"x":0.85,"y":-0.0056},{"c":2,"x":0.9,"y":0.0183},{"c":2,"x":0.95,"y":0.051},{"c":2,"x":1,"y":0.087},
{"c":3,"x":0,"y":0},{"c":3,"x":0.05,"y":0.0026},{"c":3,"x":0.1,"y":0.01},{"c":3,"x":0.15,"y":0.0239},{"c":3,"x":0.2,"y":0.0391},{"c":3,"x":0.25,"y":0.0517},{"c":3,"x":0.3,"y":0.0563},{"c":3,"x":0.35,"y":0.0526},{"c":3,"x":0.4,"y":0.0387},{"c":3,"x":0.45,"y":0.0204},{"c":3,"x":0.5,"y":0.002},{"c":3,"x":0.55,"y":-0.0218},{"c":3,"x":0.6,"y":-0.0408},{"c":3,"x":0.65,"y":-0.0529},{"c":3,"x":0.7,"y":-0.0557},{"c":3,"x":0.75,"y":-0.049},{"c":3,"x":0.8,"y":-0.0328},{"c":3,"x":0.85,"y":0.0028},{"c":3,"x":0.9,"y":0.0278},{"c":3,"x":0.95,"y":0.0664},{"c":3,"x":1,"y":0.1113},
{"c":4,"x":0,"y":0},{"c":4,"x":0.05,"y":0.0019},{"c":4,"x":0.1,"y":0.0069},{"c":4,"x":0.15,"y":0.0163},{"c":4,"x":0.2,"y":0.0269},{"c":4,"x":0.25,"y":0.0356},{"c":4,"x":0.3,"y":0.039},{"c":4,"x":0.35,"y":0.0366},{"c":4,"x":0.4,"y":0.0272},{"c":4,"x":0.45,"y":0.0144},{"c":4,"x":0.5,"y":0.0016},{"c":4,"x":0.55,"y":-0.0156},{"c":4,"x":0.6,"y":-0.0304},{"c":4,"x":0.65,"y":-0.0404},{"c":4,"x":0.7,"y":-0.0429},{"c":4,"x":0.75,"y":-0.0373},{"c":4,"x":0.8,"y":-0.0225},{"c":4,"x":0.85,"y":0.0109},{"c":4,"x":0.9,"y":0.0346},{"c":4,"x":0.95,"y":0.0754},{"c":4,"x":1,"y":0.1247},
{"c":5,"x":0,"y":0},{"c":5,"x":0.05,"y":0.001},{"c":5,"x":0.1,"y":0.003},{"c":5,"x":0.15,"y":0.007},{"c":5,"x":0.2,"y":0.012},{"c":5,"x":0.25,"y":0.016},{"c":5,"x":0.3,"y":0.018},{"c":5,"x":0.35,"y":0.017},{"c":5,"x":0.4,"y":0.013},{"c":5,"x":0.45,"y":0.007},{"c":5,"x":0.5,"y":0.001},{"c":5,"x":0.55,"y":-0.008},{"c":5,"x":0.6,"y":-0.017},{"c":5,"x":0.65,"y":-0.024},{"c":5,"x":0.7,"y":-0.026},{"c":5,"x":0.75,"y":-0.022},{"c":5,"x":0.8,"y":-0.01},{"c":5,"x":0.85,"y":0.018},{"c":5,"x":0.9,"y":0.038},{"c":5,"x":0.95,"y":0.077},{"c":5,"x":1,"y":0.126},
{"c":6,"x":0,"y":0},{"c":6,"x":0.05,"y":0.0001},{"c":6,"x":0.1,"y":-0.0011},{"c":6,"x":0.15,"y":-0.0029},{"c":6,"x":0.2,"y":-0.0041},{"c":6,"x":0.25,"y":-0.0052},{"c":6,"x":0.3,"y":-0.0048},{"c":6,"x":0.35,"y":-0.0042},{"c":6,"x":0.4,"y":-0.0024},{"c":6,"x":0.45,"y":-0.001},{"c":6,"x":0.5,"y":0.0004},{"c":6,"x":0.55,"y":0.0004},{"c":6,"x":0.6,"y":-0.002},{"c":6,"x":0.65,"y":-0.0052},{"c":6,"x":0.7,"y":-0.0065},{"c":6,"x":0.75,"y":-0.0045},{"c":6,"x":0.8,"y":0.0035},{"c":6,"x":0.85,"y":0.0233},{"c":6,"x":0.9,"y":0.0376},{"c":6,"x":0.95,"y":0.071},{"c":6,"x":1,"y":0.1149},
{"c":7,"x":0,"y":0},{"c":7,"x":0.05,"y":-0.001},{"c":7,"x":0.1,"y":-0.0052},{"c":7,"x":0.15,"y":-0.0125},{"c":7,"x":0.2,"y":-0.0197},{"c":7,"x":0.25,"y":-0.0259},{"c":7,"x":0.3,"y":-0.0271},{"c":7,"x":0.35,"y":-0.025},{"c":7,"x":0.4,"y":-0.0177},{"c":7,"x":0.45,"y":-0.009},{"c":7,"x":0.5,"y":-0.0004},{"c":7,"x":0.55,"y":0.0088},{"c":7,"x":0.6,"y":0.0132},{"c":7,"x":0.65,"y":0.0141},{"c":7,"x":0.7,"y":0.0137},{"c":7,"x":0.75,"y":0.0134},{"c":7,"x":0.8,"y":0.0166},{"c":7,"x":0.85,"y":0.0264},{"c":7,"x":0.9,"y":0.0336},{"c":7,"x":0.95,"y":0.0582},{"c":7,"x":1,"y":0.0925},
{"c":8,"x":0,"y":0},{"c":8,"x":0.05,"y":-0.0018},{"c":8,"x":0.1,"y":-0.0087},{"c":8,"x":0.15,"y":-0.021},{"c":8,"x":0.2,"y":-0.0334},{"c":8,"x":0.25,"y":-0.044},{"c":8,"x":0.3,"y":-0.0468},{"c":8,"x":0.35,"y":-0.0434},{"c":8,"x":0.4,"y":-0.0312},{"c":8,"x":0.45,"y":-0.0161},{"c":8,"x":0.5,"y":-0.001},{"c":8,"x":0.55,"y":0.0163},{"c":8,"x":0.6,"y":0.0272},{"c":8,"x":0.65,"y":0.032},{"c":8,"x":0.7,"y":0.0324},{"c":8,"x":0.75,"y":0.03},{"c":8,"x":0.8,"y":0.0281},{"c":8,"x":0.85,"y":0.0268},{"c":8,"x":0.9,"y":0.0263},{"c":8,"x":0.95,"y":0.0396},{"c":8,"x":1,"y":0.0612},
{"c":9,"x":0,"y":0},{"c":9,"x":0.05,"y":-0.0026},{"c":9,"x":0.1,"y":-0.0115},{"c":9,"x":0.15,"y":-0.0273},{"c":9,"x":0.2,"y":-0.0439},{"c":9,"x":0.25,"y":-0.0579},{"c":9,"x":0.3,"y":-0.0619},{"c":9,"x":0.35,"y":-0.0575},{"c":9,"x":0.4,"y":-0.0416},{"c":9,"x":0.45,"y":-0.0216},{"c":9,"x":0.5,"y":-0.0016},{"c":9,"x":0.55,"y":0.0222},{"c":9,"x":0.6,"y":0.0384},{"c":9,"x":0.65,"y":0.0468},{"c":9,"x":0.7,"y":0.0481},{"c":9,"x":0.75,"y":0.0436},{"c":9,"x":0.8,"y":0.0368},{"c":9,"x":0.85,"y":0.0246},{"c":9,"x":0.9,"y":0.0165},{"c":9,"x":0.95,"y":0.0171},{"c":9,"x":1,"y":0.0237},
{"c":10,"x":0,"y":0},{"c":10,"x":0.05,"y":-0.003},{"c":10,"x":0.1,"y":-0.013},{"c":10,"x":0.15,"y":-0.031},{"c":10,"x":0.2,"y":-0.05},{"c":10,"x":0.25,"y":-0.066},{"c":10,"x":0.3,"y":-0.071},{"c":10,"x":0.35,"y":-0.066},{"c":10,"x":0.4,"y":-0.048},{"c":10,"x":0.45,"y":-0.025},{"c":10,"x":0.5,"y":-0.002},{"c":10,"x":0.55,"y":0.026},{"c":10,"x":0.6,"y":0.046},{"c":10,"x":0.65,"y":0.057},{"c":10,"x":0.7,"y":0.059},{"c":10,"x":0.75,"y":0.053},{"c":10,"x":0.8,"y":0.042},{"c":10,"x":0.85,"y":0.02},{"c":10,"x":0.9,"y":0.005},{"c":10,"x":0.95,"y":-0.007},{"c":10,"x":1,"y":-0.016},
{"c":11,"x":0,"y":0},{"c":11,"x":0.05,"y":-0.0032},{"c":11,"x":0.1,"y":-0.0133},{"c":11,"x":0.15,"y":-0.0317},{"c":11,"x":0.2,"y":-0.0513},{"c":11,"x":0.25,"y":-0.0677},{"c":11,"x":0.3,"y":-0.0731},{"c":11,"x":0.35,"y":-0.0681},{"c":11,"x":0.4,"y":-0.0496},{"c":11,"x":0.45,"y":-0.026},{"c":11,"x":0.5,"y":-0.0022},{"c":11,"x":0.55,"y":0.0272},{"c":11,"x":0.6,"y":0.049},{"c":11,"x":0.65,"y":0.0616},{"c":11,"x":0.7,"y":0.0641},{"c":11,"x":0.75,"y":0.0572},{"c":11,"x":0.8,"y":0.043},{"c":11,"x":0.85,"y":0.0134},{"c":11,"x":0.9,"y":-0.0069},{"c":11,"x":0.95,"y":-0.0305},{"c":11,"x":1,"y":-0.0541},
{"c":12,"x":0,"y":0},{"c":12,"x":0.05,"y":-0.003},{"c":12,"x":0.1,"y":-0.0123},{"c":12,"x":0.15,"y":-0.0292},{"c":12,"x":0.2,"y":-0.0476},{"c":12,"x":0.25,"y":-0.0628},{"c":12,"x":0.3,"y":-0.068},{"c":12,"x":0.35,"y":-0.0634},{"c":12,"x":0.4,"y":-0.0464},{"c":12,"x":0.45,"y":-0.0243},{"c":12,"x":0.5,"y":-0.0022},{"c":12,"x":0.55,"y":0.0257},{"c":12,"x":0.6,"y":0.0472},{"c":12,"x":0.65,"y":0.0602},{"c":12,"x":0.7,"y":0.063},{"c":12,"x":0.75,"y":0.0558},{"c":12,"x":0.8,"y":0.0399},{"c":12,"x":0.85,"y":0.0056},{"c":12,"x":0.9,"y":-0.0183},{"c":12,"x":0.95,"y":-0.051},{"c":12,"x":1,"y":-0.087},
{"c":13,"x":0,"y":0},{"c":13,"x":0.05,"y":-0.0026},{"c":13,"x":0.1,"y":-0.01},{"c":13,"x":0.15,"y":-0.0239},{"c":13,"x":0.2,"y":-0.0391},{"c":13,"x":0.25,"y":-0.0517},{"c":13,"x":0.3,"y":-0.0563},{"c":13,"x":0.35,"y":-0.0526},{"c":13,"x":0.4,"y":-0.0387},{"c":13,"x":0.45,"y":-0.0204},{"c":13,"x":0.5,"y":-0.002},{"c":13,"x":0.55,"y":0.0218},{"c":13,"x":0.6,"y":0.0408},{"c":13,"x":0.65,"y":0.0529},{"c":13,"x":0.7,"y":0.0557},{"c":13,"x":0.75,"y":0.049},{"c":13,"x":0.8,"y":0.0328},{"c":13,"x":0.85,"y":-0.0028},{"c":13,"x":0.9,"y":-0.0278},{"c":13,"x":0.95,"y":-0.0664},{"c":13,"x":1,"y":-0.1113},
{"c":14,"x":0,"y":0},{"c":14,"x":0.05,"y":-0.0019},{"c":14,"x":0.1,"y":-0.0069},{"c":14,"x":0.15,"y":-0.0163},{"c":14,"x":0.2,"y":-0.0269},{"c":14,"x":0.25,"y":-0.0356},{"c":14,"x":0.3,"y":-0.039},{"c":14,"x":0.35,"y":-0.0366},{"c":14,"x":0.4,"y":-0.0272},{"c":14,"x":0.45,"y":-0.0144},{"c":14,"x":0.5,"y":-0.0016},{"c":14,"x":0.55,"y":0.0156},{"c":14,"x":0.6,"y":0.0304},{"c":14,"x":0.65,"y":0.0404},{"c":14,"x":0.7,"y":0.0429},{"c":14,"x":0.75,"y":0.0373},{"c":14,"x":0.8,"y":0.0225},{"c":14,"x":0.85,"y":-0.0109},{"c":14,"x":0.9,"y":-0.0346},{"c":14,"x":0.95,"y":-0.0754},{"c":14,"x":1,"y":-0.1247},
{"c":15,"x":0,"y":0},{"c":15,"x":0.05,"y":-0.001},{"c":15,"x":0.1,"y":-0.003},{"c":15,"x":0.15,"y":-0.007},{"c":15,"x":0.2,"y":-0.012},{"c":15,"x":0.25,"y":-0.016},{"c":15,"x":0.3,"y":-0.018},{"c":15,"x":0.35,"y":-0.017},{"c":15,"x":0.4,"y":-0.013},{"c":15,"x":0.45,"y":-0.007},{"c":15,"x":0.5,"y":-0.001},{"c":15,"x":0.55,"y":0.008},{"c":15,"x":0.6,"y":0.017},{"c":15,"x":0.65,"y":0.024},{"c":15,"x":0.7,"y":0.026},{"c":15,"x":0.75,"y":0.022},{"c":15,"x":0.8,"y":0.01},{"c":15,"x":0.85,"y":-0.018},{"c":15,"x":0.9,"y":-0.038},{"c":15,"x":0.95,"y":-0.077},{"c":15,"x":1,"y":-0.126},
{"c":16,"x":0,"y":0},{"c":16,"x":0.05,"y":-0.0001},{"c":16,"x":0.1,"y":0.0011},{"c":16,"x":0.15,"y":0.0029},{"c":16,"x":0.2,"y":0.0041},{"c":16,"x":0.25,"y":0.0052},{"c":16,"x":0.3,"y":0.0048},{"c":16,"x":0.35,"y":0.0042},{"c":16,"x":0.4,"y":0.0024},{"c":16,"x":0.45,"y":0.001},{"c":16,"x":0.5,"y":-0.0004},{"c":16,"x":0.55,"y":-0.0004},{"c":16,"x":0.6,"y":0.002},{"c":16,"x":0.65,"y":0.0052},{"c":16,"x":0.7,"y":0.0065},{"c":16,"x":0.75,"y":0.0045},{"c":16,"x":0.8,"y":-0.0035},{"c":16,"x":0.85,"y":-0.0233},{"c":16,"x":0.9,"y":-0.0376},{"c":16,"x":0.95,"y":-0.071},{"c":16,"x":1,"y":-0.1149},
{"c":17,"x":0,"y":0},{"c":17,"x":0.05,"y":0.001},{"c":17,"x":0.1,"y":0.0052},{"c":17,"x":0.15,"y":0.0125},{"c":17,"x":0.2,"y":0.0197},{"c":17,"x":0.25,"y":0.0259},{"c":17,"x":0.3,"y":0.0271},{"c":17,"x":0.35,"y":0.025},{"c":17,"x":0.4,"y":0.0177},{"c":17,"x":0.45,"y":0.009},{"c":17,"x":0.5,"y":0.0004},{"c":17,"x":0.55,"y":-0.0088},{"c":17,"x":0.6,"y":-0.0132},{"c":17,"x":0.65,"y":-0.0141},{"c":17,"x":0.7,"y":-0.0137},{"c":17,"x":0.75,"y":-0.0134},{"c":17,"x":0.8,"y":-0.0166},{"c":17,"x":0.85,"y":-0.0264},{"c":17,"x":0.9,"y":-0.0336},{"c":17,"x":0.95,"y":-0.0582},{"c":17,"x":1,"y":-0.0925},
{"c":18,"x":0,"y":0},{"c":18,"x":0.05,"y":0.0018},{"c":18,"x":0.1,"y":0.0087},{"c":18,"x":0.15,"y":0.021},{"c":18,"x":0.2,"y":0.0334},{"c":18,"x":0.25,"y":0.044},{"c":18,"x":0.3,"y":0.0468},{"c":18,"x":0.35,"y":0.0434},{"c":18,"x":0.4,"y":0.0312},{"c":18,"x":0.45,"y":0.0161},{"c":18,"x":0.5,"y":0.001},{"c":18,"x":0.55,"y":-0.0163},{"c":18,"x":0.6,"y":-0.0272},{"c":18,"x":0.65,"y":-0.032},{"c":18,"x":0.7,"y":-0.0324},{"c":18,"x":0.75,"y":-0.03},{"c":18,"x":0.8,"y":-0.0281},{"c":18,"x":0.85,"y":-0.0268},{"c":18,"x":0.9,"y":-0.0263},{"c":18,"x":0.95,"y":-0.0396},{"c":18,"x":1,"y":-0.0612},
{"c":19,"x":0,"y":0},{"c":19,"x":0.05,"y":0.0026},{"c":19,"x":0.1,"y":0.0115},{"c":19,"x":0.15,"y":0.0273},{"c":19,"x":0.2,"y":0.0439},{"c":19,"x":0.25,"y":0.0579},{"c":19,"x":0.3,"y":0.0619},{"c":19,"x":0.35,"y":0.0575},{"c":19,"x":0.4,"y":0.0416},{"c":19,"x":0.45,"y":0.0216},{"c":19,"x":0.5,"y":0.0016},{"c":19,"x":0.55,"y":-0.0222},{"c":19,"x":0.6,"y":-0.0384},{"c":19,"x":0.65,"y":-0.0468},{"c":19,"x":0.7,"y":-0.0481},{"c":19,"x":0.75,"y":-0.0436},{"c":19,"x":0.8,"y":-0.0368},{"c":19,"x":0.85,"y":-0.0246},{"c":19,"x":0.9,"y":-0.0165},{"c":19,"x":0.95,"y":-0.0171},{"c":19,"x":1,"y":-0.0237},
{"c":20,"x":0,"y":0},{"c":20,"x":0.05,"y":0.0032},{"c":20,"x":0.1,"y":0.0133},{"c":20,"x":0.15,"y":0.0317},{"c":20,"x":0.2,"y":0.0513},{"c":20,"x":0.25,"y":0.0677},{"c":20,"x":0.3,"y":0.0729},{"c":20,"x":0.35,"y":0.0679},{"c":20,"x":0.4,"y":0.0494},{"c":20,"x":0.45,"y":0.0258},{"c":20,"x":0.5,"y":0.0022},{"c":20,"x":0.55,"y":-0.0269},{"c":20,"x":0.6,"y":-0.0481},{"c":20,"x":0.65,"y":-0.06},{"c":20,"x":0.7,"y":-0.0624},{"c":20,"x":0.75,"y":-0.0558},{"c":20,"x":0.8,"y":-0.0431},{"c":20,"x":0.85,"y":-0.017},{"c":20,"x":0.9,"y":0.001},{"c":20,"x":0.95,"y":0.0189},{"c":20,"x":1,"y":0.0355},
{"c":21,"x":0,"y":0},{"c":21,"x":0.05,"y":0.0032},{"c":21,"x":0.1,"y":0.013},{"c":21,"x":0.15,"y":0.0308},{"c":21,"x":0.2,"y":0.05},{"c":21,"x":0.25,"y":0.0661},{"c":21,"x":0.3,"y":0.0715},{"c":21,"x":0.35,"y":0.0665},{"c":21,"x":0.4,"y":0.0487},{"c":21,"x":0.45,"y":0.0255},{"c":21,"x":0.5,"y":0.0023},{"c":21,"x":0.55,"y":-0.0268},{"c":21,"x":0.6,"y":-0.0487},{"c":21,"x":0.65,"y":-0.0617},{"c":21,"x":0.7,"y":-0.0644},{"c":21,"x":0.75,"y":-0.0572},{"c":21,"x":0.8,"y":-0.0419},{"c":21,"x":0.85,"y":-0.0096},{"c":21,"x":0.9,"y":0.0128},{"c":21,"x":0.95,"y":0.0412},{"c":21,"x":1,"y":0.0715},
{"c":22,"x":0,"y":0},{"c":22,"x":0.05,"y":0.0028},{"c":22,"x":0.1,"y":0.0113},{"c":22,"x":0.15,"y":0.0268},{"c":22,"x":0.2,"y":0.0439},{"c":22,"x":0.25,"y":0.058},{"c":22,"x":0.3,"y":0.0629},{"c":22,"x":0.35,"y":0.0587},{"c":22,"x":0.4,"y":0.0431},{"c":22,"x":0.45,"y":0.0226},{"c":22,"x":0.5,"y":0.0021},{"c":22,"x":0.55,"y":-0.0241},{"c":22,"x":0.6,"y":-0.0445},{"c":22,"x":0.65,"y":-0.0573},{"c":22,"x":0.7,"y":-0.0601},{"c":22,"x":0.75,"y":-0.0531},{"c":22,"x":0.8,"y":-0.0368},{"c":22,"x":0.85,"y":-0.0014},{"c":22,"x":0.9,"y":0.0234},{"c":22,"x":0.95,"y":0.0593},{"c":22,"x":1,"y":0.1004},
{"c":23,"x":0,"y":0},{"c":23,"x":0.05,"y":0.0023},{"c":23,"x":0.1,"y":0.0086},{"c":23,"x":0.15,"y":0.0203},{"c":23,"x":0.2,"y":0.0334},{"c":23,"x":0.25,"y":0.0443},{"c":23,"x":0.3,"y":0.0482},{"c":23,"x":0.35,"y":0.0451},{"c":23,"x":0.4,"y":0.0334},{"c":23,"x":0.45,"y":0.0176},{"c":23,"x":0.5,"y":0.0018},{"c":23,"x":0.55,"y":-0.0189},{"c":23,"x":0.6,"y":-0.036},{"c":23,"x":0.65,"y":-0.0473},{"c":23,"x":0.7,"y":-0.05},{"c":23,"x":0.75,"y":-0.0437},{"c":23,"x":0.8,"y":-0.028},{"c":23,"x":0.85,"y":0.0069},{"c":23,"x":0.9,"y":0.0316},{"c":23,"x":0.95,"y":0.0718},{"c":23,"x":1,"y":0.1196},
{"c":24,"x":0,"y":0},{"c":24,"x":0.05,"y":0.0015},{"c":24,"x":0.1,"y":0.005},{"c":24,"x":0.15,"y":0.0117},{"c":24,"x":0.2,"y":0.0197},{"c":24,"x":0.25,"y":0.0261},{"c":24,"x":0.3,"y":0.0289},{"c":24,"x":0.35,"y":0.0271},{"c":24,"x":0.4,"y":0.0203},{"c":24,"x":0.45,"y":0.0108},{"c":24,"x":0.5,"y":0.0013},{"c":24,"x":0.55,"y":-0.012},{"c":24,"x":0.6,"y":-0.024},{"c":24,"x":0.65,"y":-0.0326},{"c":24,"x":0.7,"y":-0.0349},{"c":24,"x":0.75,"y":-0.03},{"c":24,"x":0.8,"y":-0.0165},{"c":24,"x":0.85,"y":0.0147},{"c":24,"x":0.9,"y":0.0367},{"c":24,"x":0.95,"y":0.0772},{"c":24,"x":1,"y":0.127},
{"c":25,"x":0,"y":0},{"c":25,"x":0.05,"y":0.0005},{"c":25,"x":0.1,"y":0.001},{"c":25,"x":0.15,"y":0.0021},{"c":25,"x":0.2,"y":0.0041},{"c":25,"x":0.25,"y":0.0055},{"c":25,"x":0.3,"y":0.0067},{"c":25,"x":0.35,"y":0.0065},{"c":25,"x":0.4,"y":0.0053},{"c":25,"x":0.45,"y":0.003},{"c":25,"x":0.5,"y":0.0007},{"c":25,"x":0.55,"y":-0.0038},{"c":25,"x":0.6,"y":-0.0096},{"c":25,"x":0.65,"y":-0.0148},{"c":25,"x":0.7,"y":-0.0165},{"c":25,"x":0.75,"y":-0.0134},{"c":25,"x":0.8,"y":-0.0033},{"c":25,"x":0.85,"y":0.0209},{"c":25,"x":0.9,"y":0.0383},{"c":25,"x":0.95,"y":0.075},{"c":25,"x":1,"y":0.122},
{"c":26,"x":0,"y":0},{"c":26,"x":0.05,"y":-0.0005},{"c":26,"x":0.1,"y":-0.0032},{"c":26,"x":0.15,"y":-0.0079},{"c":26,"x":0.2,"y":-0.012},{"c":26,"x":0.25,"y":-0.0157},{"c":26,"x":0.3,"y":-0.0162},{"c":26,"x":0.35,"y":-0.0149},{"c":26,"x":0.4,"y":-0.0102},{"c":26,"x":0.45,"y":-0.0052},{"c":26,"x":0.5,"y":0},{"c":26,"x":0.55,"y":0.0047},{"c":26,"x":0.6,"y":0.0058},{"c":26,"x":0.65,"y":0.0045},{"c":26,"x":0.7,"y":0.0036},{"c":26,"x":0.75,"y":0.0045},{"c":26,"x":0.8,"y":0.0102},{"c":26,"x":0.85,"y":0.0251},{"c":26,"x":0.9,"y":0.0362},{"c":26,"x":0.95,"y":0.0654},{"c":26,"x":1,"y":0.105},
{"c":27,"x":0,"y":0},{"c":27,"x":0.05,"y":-0.0014},{"c":27,"x":0.1,"y":-0.0071},{"c":27,"x":0.15,"y":-0.017},{"c":27,"x":0.2,"y":-0.0269},{"c":27,"x":0.25,"y":-0.0354},{"c":27,"x":0.3,"y":-0.0375},{"c":27,"x":0.35,"y":-0.0347},{"c":27,"x":0.4,"y":-0.0247},{"c":27,"x":0.45,"y":-0.0128},{"c":27,"x":0.5,"y":-0.0007},{"c":27,"x":0.55,"y":0.0127},{"c":27,"x":0.6,"y":0.0205},{"c":27,"x":0.65,"y":0.0233},{"c":27,"x":0.7,"y":0.0233},{"c":27,"x":0.75,"y":0.0219},{"c":27,"x":0.8,"y":0.0226},{"c":27,"x":0.85,"y":0.0268},{"c":27,"x":0.9,"y":0.0304},{"c":27,"x":0.95,"y":0.0495},{"c":27,"x":1,"y":0.0778},
{"c":28,"x":0,"y":0},{"c":28,"x":0.05,"y":-0.0022},{"c":28,"x":0.1,"y":-0.0102},{"c":28,"x":0.15,"y":-0.0244},{"c":28,"x":0.2,"y":-0.0392},{"c":28,"x":0.25,"y":-0.0515},{"c":28,"x":0.3,"y":-0.0551},{"c":28,"x":0.35,"y":-0.0511},{"c":28,"x":0.4,"y":-0.0369},{"c":28,"x":0.45,"y":-0.0191},{"c":28,"x":0.5,"y":-0.0013},{"c":28,"x":0.55,"y":0.0196},{"c":28,"x":0.6,"y":0.0333},{"c":28,"x":0.65,"y":0.0399},{"c":28,"x":0.7,"y":0.0408},{"c":28,"x":0.75,"y":0.0372},{"c":28,"x":0.8,"y":0.0329},{"c":28,"x":0.85,"y":0.026},{"c":28,"x":0.9,"y":0.0218},{"c":28,"x":0.95,"y":0.0288},{"c":28,"x":1,"y":0.0429},
{"c":29,"x":0,"y":0},{"c":29,"x":0.05,"y":-0.0028},{"c":29,"x":0.1,"y":-0.0123},{"c":29,"x":0.15,"y":-0.0295},{"c":29,"x":0.2,"y":-0.0475},{"c":29,"x":0.25,"y":-0.0627},{"c":29,"x":0.3,"y":-0.0673},{"c":29,"x":0.35,"y":-0.0625},{"c":29,"x":0.4,"y":-0.0454},{"c":29,"x":0.45,"y":-0.0236},{"c":29,"x":0.5,"y":-0.0018},{"c":29,"x":0.55,"y":0.0245},{"c":29,"x":0.6,"y":0.0427},{"c":29,"x":0.65,"y":0.0526},{"c":29,"x":0.7,"y":0.0542},{"c":29,"x":0.75,"y":0.049},{"c":29,"x":0.8,"y":0.0399},{"c":29,"x":0.85,"y":0.0226},{"c":29,"x":0.9,"y":0.0108},{"c":29,"x":0.95,"y":0.0051},{"c":29,"x":1,"y":0.0039},
{"c":30,"x":0,"y":0},{"c":30,"x":0.05,"y":-0.0032},{"c":30,"x":0.1,"y":-0.0133},{"c":30,"x":0.15,"y":-0.0317},{"c":30,"x":0.2,"y":-0.0513},{"c":30,"x":0.25,"y":-0.0677},{"c":30,"x":0.3,"y":-0.0729},{"c":30,"x":0.35,"y":-0.0679},{"c":30,"x":0.4,"y":-0.0494},{"c":30,"x":0.45,"y":-0.0258},{"c":30,"x":0.5,"y":-0.0022},{"c":30,"x":0.55,"y":0.0269},{"c":30,"x":0.6,"y":0.0481},{"c":30,"x":0.65,"y":0.06},{"c":30,"x":0.7,"y":0.0624},{"c":30,"x":0.75,"y":0.0558},{"c":30,"x":0.8,"y":0.0431},{"c":30,"x":0.85,"y":0.017},{"c":30,"x":0.9,"y":-0.001},{"c":30,"x":0.95,"y":-0.0189},{"c":30,"x":1,"y":-0.0355},
{"c":31,"x":0,"y":0},{"c":31,"x":0.05,"y":-0.0032},{"c":31,"x":0.1,"y":-0.013},{"c":31,"x":0.15,"y":-0.0308},{"c":31,"x":0.2,"y":-0.05},{"c":31,"x":0.25,"y":-0.0661},{"c":31,"x":0.3,"y":-0.0715},{"c":31,"x":0.35,"y":-0.0665},{"c":31,"x":0.4,"y":-0.0487},{"c":31,"x":0.45,"y":-0.0255},{"c":31,"x":0.5,"y":-0.0023},{"c":31,"x":0.55,"y":0.0268},{"c":31,"x":0.6,"y":0.0487},{"c":31,"x":0.65,"y":0.0617},{"c":31,"x":0.7,"y":0.0644},{"c":31,"x":0.75,"y":0.0572},{"c":31,"x":0.8,"y":0.0419},{"c":31,"x":0.85,"y":0.0096},{"c":31,"x":0.9,"y":-0.0128},{"c":31,"x":0.95,"y":-0.0412},{"c":31,"x":1,"y":-0.0715},
{"c":32,"x":0,"y":0},{"c":32,"x":0.05,"y":-0.0028},{"c":32,"x":0.1,"y":-0.0113},{"c":32,"x":0.15,"y":-0.0268},{"c":32,"x":0.2,"y":-0.0439},{"c":32,"x":0.25,"y":-0.058},{"c":32,"x":0.3,"y":-0.0629},{"c":32,"x":0.35,"y":-0.0587},{"c":32,"x":0.4,"y":-0.0431},{"c":32,"x":0.45,"y":-0.0226},{"c":32,"x":0.5,"y":-0.0021},{"c":32,"x":0.55,"y":0.0241},{"c":32,"x":0.6,"y":0.0445},{"c":32,"x":0.65,"y":0.0573},{"c":32,"x":0.7,"y":0.0601},{"c":32,"x":0.75,"y":0.0531},{"c":32,"x":0.8,"y":0.0368},{"c":32,"x":0.85,"y":0.0014},{"c":32,"x":0.9,"y":-0.0234},{"c":32,"x":0.95,"y":-0.0593},{"c":32,"x":1,"y":-0.1004},
{"c":33,"x":0,"y":0},{"c":33,"x":0.05,"y":-0.0023},{"c":33,"x":0.1,"y":-0.0086},{"c":33,"x":0.15,"y":-0.0203},{"c":33,"x":0.2,"y":-0.0334},{"c":33,"x":0.25,"y":-0.0443},{"c":33,"x":0.3,"y":-0.0482},{"c":33,"x":0.35,"y":-0.0451},{"c":33,"x":0.4,"y":-0.0334},{"c":33,"x":0.45,"y":-0.0176},{"c":33,"x":0.5,"y":-0.0018},{"c":33,"x":0.55,"y":0.0189},{"c":33,"x":0.6,"y":0.036},{"c":33,"x":0.65,"y":0.0473},{"c":33,"x":0.7,"y":0.05},{"c":33,"x":0.75,"y":0.0437},{"c":33,"x":0.8,"y":0.028},{"c":33,"x":0.85,"y":-0.0069},{"c":33,"x":0.9,"y":-0.0316},{"c":33,"x":0.95,"y":-0.0718},{"c":33,"x":1,"y":-0.1196},
{"c":34,"x":0,"y":0},{"c":34,"x":0.05,"y":-0.0015},{"c":34,"x":0.1,"y":-0.005},{"c":34,"x":0.15,"y":-0.0117},{"c":34,"x":0.2,"y":-0.0197},{"c":34,"x":0.25,"y":-0.0261},{"c":34,"x":0.3,"y":-0.0289},{"c":34,"x":0.35,"y":-0.0271},{"c":34,"x":0.4,"y":-0.0203},{"c":34,"x":0.45,"y":-0.0108},{"c":34,"x":0.5,"y":-0.0013},{"c":34,"x":0.55,"y":0.012},{"c":34,"x":0.6,"y":0.024},{"c":34,"x":0.65,"y":0.0326},{"c":34,"x":0.7,"y":0.0349},{"c":34,"x":0.75,"y":0.03},{"c":34,"x":0.8,"y":0.0165},{"c":34,"x":0.85,"y":-0.0147},{"c":34,"x":0.9,"y":-0.0367},{"c":34,"x":0.95,"y":-0.0772},{"c":34,"x":1,"y":-0.127},
{"c":35,"x":0,"y":0},{"c":35,"x":0.05,"y":-0.0005},{"c":35,"x":0.1,"y":-0.001},{"c":35,"x":0.15,"y":-0.0021},{"c":35,"x":0.2,"y":-0.0041},{"c":35,"x":0.25,"y":-0.0055},{"c":35,"x":0.3,"y":-0.0067},{"c":35,"x":0.35,"y":-0.0065},{"c":35,"x":0.4,"y":-0.0053},{"c":35,"x":0.45,"y":-0.003},{"c":35,"x":0.5,"y":-0.0007},{"c":35,"x":0.55,"y":0.0038},{"c":35,"x":0.6,"y":0.0096},{"c":35,"x":0.65,"y":0.0148},{"c":35,"x":0.7,"y":0.0165},{"c":35,"x":0.75,"y":0.0134},{"c":35,"x":0.8,"y":0.0033},{"c":35,"x":0.85,"y":-0.0209},{"c":35,"x":0.9,"y":-0.0383},{"c":35,"x":0.95,"y":-0.075},{"c":35,"x":1,"y":-0.122},
{"c":36,"x":0,"y":0},{"c":36,"x":0.05,"y":0.0005},{"c":36,"x":0.1,"y":0.0032},{"c":36,"x":0.15,"y":0.0079},{"c":36,"x":0.2,"y":0.012},{"c":36,"x":0.25,"y":0.0157},{"c":36,"x":0.3,"y":0.0162},{"c":36,"x":0.35,"y":0.0149},{"c":36,"x":0.4,"y":0.0102},{"c":36,"x":0.45,"y":0.0052},{"c":36,"x":0.5,"y":0},{"c":36,"x":0.55,"y":-0.0047},{"c":36,"x":0.6,"y":-0.0058},{"c":36,"x":0.65,"y":-0.0045},{"c":36,"x":0.7,"y":-0.0036},{"c":36,"x":0.75,"y":-0.0045},{"c":36,"x":0.8,"y":-0.0102},{"c":36,"x":0.85,"y":-0.0251},{"c":36,"x":0.9,"y":-0.0362},{"c":36,"x":0.95,"y":-0.0654},{"c":36,"x":1,"y":-0.105},
{"c":37,"x":0,"y":0},{"c":37,"x":0.05,"y":0.0014},{"c":37,"x":0.1,"y":0.0071},{"c":37,"x":0.15,"y":0.017},{"c":37,"x":0.2,"y":0.0269},{"c":37,"x":0.25,"y":0.0354},{"c":37,"x":0.3,"y":0.0375},{"c":37,"x":0.35,"y":0.0347},{"c":37,"x":0.4,"y":0.0247},{"c":37,"x":0.45,"y":0.0128},{"c":37,"x":0.5,"y":0.0007},{"c":37,"x":0.55,"y":-0.0127},{"c":37,"x":0.6,"y":-0.0205},{"c":37,"x":0.65,"y":-0.0233},{"c":37,"x":0.7,"y":-0.0233},{"c":37,"x":0.75,"y":-0.0219},{"c":37,"x":0.8,"y":-0.0226},{"c":37,"x":0.85,"y":-0.0268},{"c":37,"x":0.9,"y":-0.0304},{"c":37,"x":0.95,"y":-0.0495},{"c":37,"x":1,"y":-0.0778},
{"c":38,"x":0,"y":0},{"c":38,"x":0.05,"y":0.0022},{"c":38,"x":0.1,"y":0.0102},{"c":38,"x":0.15,"y":0.0244},{"c":38,"x":0.2,"y":0.0392},{"c":38,"x":0.25,"y":0.0515},{"c":38,"x":0.3,"y":0.0551},{"c":38,"x":0.35,"y":0.0511},{"c":38,"x":0.4,"y":0.0369},{"c":38,"x":0.45,"y":0.0191},{"c":38,"x":0.5,"y":0.0013},{"c":38,"x":0.55,"y":-0.0196},{"c":38,"x":0.6,"y":-0.0333},{"c":38,"x":0.65,"y":-0.0399},{"c":38,"x":0.7,"y":-0.0408},{"c":38,"x":0.75,"y":-0.0372},{"c":38,"x":0.8,"y":-0.0329},{"c":38,"x":0.85,"y":-0.026},{"c":38,"x":0.9,"y":-0.0218},{"c":38,"x":0.95,"y":-0.0288},{"c":38,"x":1,"y":-0.0429},
{"c":39,"x":0,"y":0},{"c":39,"x":0.05,"y":0.0028},{"c":39,"x":0.1,"y":0.0123},{"c":39,"x":0.15,"y":0.0295},{"c":39,"x":0.2,"y":0.0475},{"c":39,"x":0.25,"y":0.0627},{"c":39,"x":0.3,"y":0.0673},{"c":39,"x":0.35,"y":0.0625},{"c":39,"x":0.4,"y":0.0454},{"c":39,"x":0.45,"y":0.0236},{"c":39,"x":0.5,"y":0.0018},{"c":39,"x":0.55,"y":-0.0245},{"c":39,"x":0.6,"y":-0.0427},{"c":39,"x":0.65,"y":-0.0526},{"c":39,"x":0.7,"y":-0.0542},{"c":39,"x":0.75,"y":-0.049},{"c":39,"x":0.8,"y":-0.0399},{"c":39,"x":0.85,"y":-0.0226},{"c":39,"x":0.9,"y":-0.0108},{"c":39,"x":0.95,"y":-0.0051},{"c":39,"x":1,"y":-0.0039}
]
},
"columns":2,
"spacing":{"row":62,"column":81},
"bounds":"flush",
"concat":[
{"width":272,"height":210,"data":{"name":"a"},
"title":{"text":"a","anchor":"start","frame":"group","dx":-47,"dy":23,"offset":0,"fontSize":14,"fontWeight":"bold","baseline":"alphabetic","font":"Liberation Serif","color":"#000"},
"layer":[
{"mark":{"type":"line","interpolate":"monotone","strokeWidth":0.8,"color":"#0000ff","clip":true},
"encoding":{
"x":{"field":"x","type":"quantitative","scale":{"domain":[0,1],"nice":false,"zero":false},"axis":{"values":[0,0.2,0.4,0.6,0.8,1],"labelExpr":"datum.value < 0 ? '-' + format(-datum.value, '~g') : format(datum.value, '~g')","title":"ξ","titleX":136,"titleY":37,"titleBaseline":"alphabetic","titleAlign":"center"}},
"y":{"field":"y","type":"quantitative","scale":{"domain":[-0.15,0.15],"nice":false,"zero":false},"axis":{"values":[-0.15,-0.1,-0.05,0,0.05,0.1,0.15],"labelExpr":"datum.value < 0 ? '-' + format(-datum.value, '~g') : format(datum.value, '~g')","title":"ζ(ξ)θ","titleX":-22,"titleY":105,"titleBaseline":"alphabetic","titleAlign":"center","titleAngle":-90}},
"detail":{"field":"c","type":"nominal"}}},
{"mark":{"type":"point","opacity":0,"size":1},
"encoding":{
"x":{"field":"x","type":"quantitative","axis":{"orient":"top","values":[0,0.2,0.4,0.6,0.8,1],"labels":false,"title":null,"domain":false}},
"y":{"field":"y","type":"quantitative","axis":{"orient":"right","values":[-0.15,-0.1,-0.05,0,0.05,0.1,0.15],"labels":false,"title":null,"domain":false}}}}
],
"resolve":{"axis":{"x":"independent","y":"independent"}}},
{"width":279,"height":210,"data":{"name":"b"},
"title":{"text":"b","anchor":"start","frame":"group","dx":-47,"dy":23,"offset":0,"fontSize":14,"fontWeight":"bold","baseline":"alphabetic","font":"Liberation Serif","color":"#000"},
"layer":[
{"mark":{"type":"line","interpolate":"monotone","strokeWidth":0.8,"color":"#ff0000","clip":true},
"encoding":{
"x":{"field":"x","type":"quantitative","scale":{"domain":[0,1],"nice":false,"zero":false},"axis":{"values":[0,0.2,0.4,0.6,0.8,1],"labelExpr":"datum.value < 0 ? '-' + format(-datum.value, '~g') : format(datum.value, '~g')","title":"ξ","titleX":139.5,"titleY":37,"titleBaseline":"alphabetic","titleAlign":"center"}},
"y":{"field":"y","type":"quantitative","scale":{"domain":[-0.2,0.2],"nice":false,"zero":false},"axis":{"values":[-0.2,-0.1,0,0.1,0.2],"labelExpr":"datum.value < 0 ? '-' + format(-datum.value, '~g') : format(datum.value, '~g')","title":"ζ(ξ)θ","titleX":-22,"titleY":105,"titleBaseline":"alphabetic","titleAlign":"center","titleAngle":-90}},
"detail":{"field":"c","type":"nominal"}}},
{"mark":{"type":"point","opacity":0,"size":1},
"encoding":{
"x":{"field":"x","type":"quantitative","axis":{"orient":"top","values":[0,0.2,0.4,0.6,0.8,1],"labels":false,"title":null,"domain":false}},
"y":{"field":"y","type":"quantitative","axis":{"orient":"right","values":[-0.2,-0.1,0,0.1,0.2],"labels":false,"title":null,"domain":false}}}}
],
"resolve":{"axis":{"x":"independent","y":"independent"}}},
{"width":272,"height":211,"data":{"name":"c"},
"title":{"text":"c","anchor":"start","frame":"group","dx":-47,"dy":23,"offset":0,"fontSize":14,"fontWeight":"bold","baseline":"alphabetic","font":"Liberation Serif","color":"#000"},
"layer":[
{"mark":{"type":"line","interpolate":"monotone","strokeWidth":0.8,"color":"#0000ff","clip":true},
"encoding":{
"x":{"field":"x","type":"quantitative","scale":{"domain":[0,1],"nice":false,"zero":false},"axis":{"values":[0,0.2,0.4,0.6,0.8,1],"labelExpr":"datum.value < 0 ? '-' + format(-datum.value, '~g') : format(datum.value, '~g')","title":"ξ","titleX":136,"titleY":37,"titleBaseline":"alphabetic","titleAlign":"center"}},
"y":{"field":"y","type":"quantitative","scale":{"domain":[-0.15,0.15],"nice":false,"zero":false},"axis":{"values":[-0.15,-0.1,-0.05,0,0.05,0.1,0.15],"labelExpr":"datum.value < 0 ? '-' + format(-datum.value, '~g') : format(datum.value, '~g')","title":"η(ξ)θ","titleX":-22,"titleY":105.5,"titleBaseline":"alphabetic","titleAlign":"center","titleAngle":-90}},
"detail":{"field":"c","type":"nominal"}}},
{"mark":{"type":"point","opacity":0,"size":1},
"encoding":{
"x":{"field":"x","type":"quantitative","axis":{"orient":"top","values":[0,0.2,0.4,0.6,0.8,1],"labels":false,"title":null,"domain":false}},
"y":{"field":"y","type":"quantitative","axis":{"orient":"right","values":[-0.15,-0.1,-0.05,0,0.05,0.1,0.15],"labels":false,"title":null,"domain":false}}}}
],
"resolve":{"axis":{"x":"independent","y":"independent"}}},
{"width":279,"height":211,"data":{"name":"d"},
"title":{"text":"d","anchor":"start","frame":"group","dx":-47,"dy":23,"offset":0,"fontSize":14,"fontWeight":"bold","baseline":"alphabetic","font":"Liberation Serif","color":"#000"},
"layer":[
{"mark":{"type":"line","interpolate":"monotone","strokeWidth":0.8,"color":"#ff0000","clip":true},
"encoding":{
"x":{"field":"x","type":"quantitative","scale":{"domain":[0,1],"nice":false,"zero":false},"axis":{"values":[0,0.2,0.4,0.6,0.8,1],"labelExpr":"datum.value < 0 ? '-' + format(-datum.value, '~g') : format(datum.value, '~g')","title":"ξ","titleX":139.5,"titleY":37,"titleBaseline":"alphabetic","titleAlign":"center"}},
"y":{"field":"y","type":"quantitative","scale":{"domain":[-0.15,0.15],"nice":false,"zero":false},"axis":{"values":[-0.15,-0.1,-0.05,0,0.05,0.1,0.15],"labelExpr":"datum.value < 0 ? '-' + format(-datum.value, '~g') : format(datum.value, '~g')","title":"η(ξ)θ","titleX":-22,"titleY":105.5,"titleBaseline":"alphabetic","titleAlign":"center","titleAngle":-90}},
"detail":{"field":"c","type":"nominal"}}},
{"mark":{"type":"point","opacity":0,"size":1},
"encoding":{
"x":{"field":"x","type":"quantitative","axis":{"orient":"top","values":[0,0.2,0.4,0.6,0.8,1],"labels":false,"title":null,"domain":false}},
"y":{"field":"y","type":"quantitative","axis":{"orient":"right","values":[-0.15,-0.1,-0.05,0,0.05,0.1,0.15],"labels":false,"title":null,"domain":false}}}}
],
"resolve":{"axis":{"x":"independent","y":"independent"}}}
]
}
